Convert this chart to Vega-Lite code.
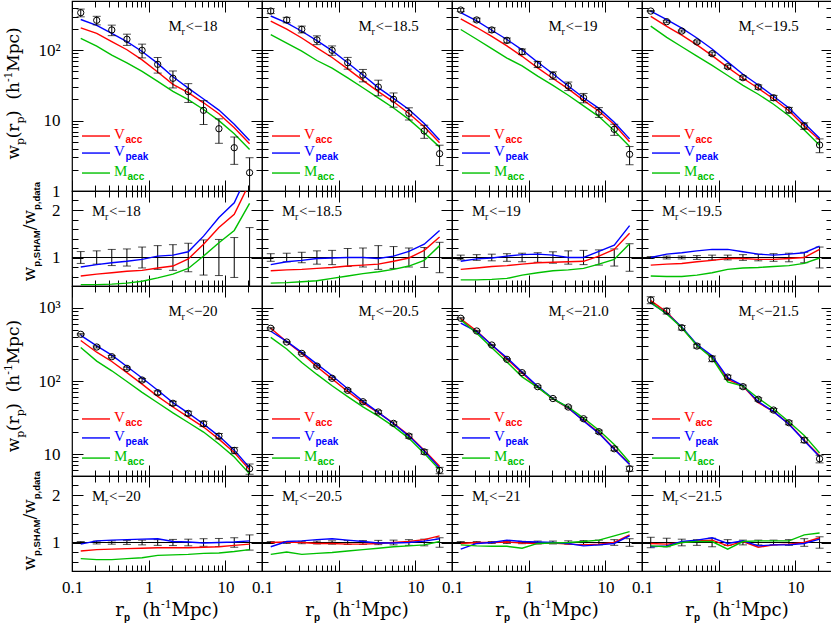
{"$schema":"https://vega.github.io/schema/vega-lite/v6.json","padding":{"left":2,"top":-2,"right":0,"bottom":0},"bounds":"flush","spacing":0,"columns":4,
"config":{"view":{"stroke":"black","strokeWidth":1.2},"axis":{"domain":false,"grid":false,"labelFont":"Liberation Serif","labelFontSize":17,"labelColor":"black","tickColor":"black","tickWidth":1,"labelOverlap":false,"labelFlush":false},"text":{"font":"Liberation Serif","fontSize":15,"align":"left","baseline":"alphabetic","color":"black"}},
"datasets":{"m":[
{"s":"A","r":0.13,"w":341,"lo":298,"hi":384,"va":208,"vp":273,"ma":147},
{"s":"A","r":0.21,"w":266,"lo":229,"hi":303,"va":173,"vp":226,"ma":114},
{"s":"A","r":0.33,"w":194,"lo":161,"hi":227,"va":132,"vp":173,"ma":85},
{"s":"A","r":0.52,"w":143,"lo":117,"hi":169,"va":101.5,"vp":132,"ma":66},
{"s":"A","r":0.82,"w":99.7,"lo":77.8,"hi":122,"va":72.8,"vp":96,"ma":50},
{"s":"A","r":1.31,"w":63,"lo":47.3,"hi":78.8,"va":49.1,"vp":65,"ma":36},
{"s":"A","r":2.07,"w":39.9,"lo":29.1,"hi":50.7,"va":32.7,"vp":42,"ma":26},
{"s":"A","r":3.28,"w":25.8,"lo":18.1,"hi":33.5,"va":25,"vp":28.9,"ma":19.9},
{"s":"A","r":5.19,"w":14,"lo":8.8,"hi":19.2,"va":17.9,"vp":20.3,"ma":14.4},
{"s":"A","r":8.23,"w":7.67,"lo":4.76,"hi":10.6,"va":12.5,"vp":14.1,"ma":10},
{"s":"A","r":13.04,"w":4.12,"lo":2.39,"hi":5.85,"va":7.9,"vp":8.9,"ma":6.5},
{"s":"A","r":20.67,"w":1.82,"lo":0.67,"hi":2.97,"va":4.7,"vp":5.2,"ma":3.9},
{"s":"B","r":0.13,"w":360,"lo":331,"hi":389,"va":259,"vp":306,"ma":166},
{"s":"B","r":0.21,"w":269,"lo":245,"hi":293,"va":199,"vp":245,"ma":126},
{"s":"B","r":0.33,"w":198,"lo":176,"hi":220,"va":149,"vp":186,"ma":97},
{"s":"B","r":0.52,"w":140,"lo":120,"hi":160,"va":108,"vp":137,"ma":71.4},
{"s":"B","r":0.82,"w":99.7,"lo":84.7,"hi":115,"va":78.8,"vp":98.7,"ma":55.8},
{"s":"B","r":1.31,"w":66.4,"lo":53.8,"hi":79,"va":54.4,"vp":66.4,"ma":40.5},
{"s":"B","r":2.07,"w":44.4,"lo":35.5,"hi":53.3,"va":37.3,"vp":44.4,"ma":29.3},
{"s":"B","r":3.28,"w":30,"lo":22.5,"hi":37.5,"va":25.8,"vp":29.4,"ma":21},
{"s":"B","r":5.19,"w":20.1,"lo":15.5,"hi":24.7,"va":18.5,"vp":20.7,"ma":15.1},
{"s":"B","r":8.23,"w":12.7,"lo":10.2,"hi":15.2,"va":12.6,"vp":14.4,"ma":10.4},
{"s":"B","r":13.04,"w":7.12,"lo":5.6,"hi":8.6,"va":8.2,"vp":9.1,"ma":6.7},
{"s":"B","r":20.67,"w":3.39,"lo":2.3,"hi":4.47,"va":4.85,"vp":5.3,"ma":4.2},
{"s":"C","r":0.13,"w":372,"lo":353,"hi":391,"va":279,"vp":342,"ma":197},
{"s":"C","r":0.21,"w":269,"lo":253,"hi":285,"va":210,"vp":261,"ma":143},
{"s":"C","r":0.33,"w":194,"lo":180,"hi":208,"va":157,"vp":192,"ma":105},
{"s":"C","r":0.52,"w":138,"lo":127,"hi":149,"va":115,"vp":142,"ma":77.3},
{"s":"C","r":0.82,"w":95.2,"lo":86.6,"hi":104,"va":81.9,"vp":101,"ma":60},
{"s":"C","r":1.31,"w":63,"lo":56.7,"hi":69.3,"va":56.1,"vp":67.4,"ma":42.8},
{"s":"C","r":2.07,"w":44,"lo":38.7,"hi":49.3,"va":39.6,"vp":46.2,"ma":31.7},
{"s":"C","r":3.28,"w":31,"lo":26.7,"hi":35.3,"va":28.2,"vp":31,"ma":22.9},
{"s":"C","r":5.19,"w":21.1,"lo":17.9,"hi":24.3,"va":19.4,"vp":21.1,"ma":16.2},
{"s":"C","r":8.23,"w":13.2,"lo":11.1,"hi":15.3,"va":13.6,"vp":14.9,"ma":11.4},
{"s":"C","r":13.04,"w":7.52,"lo":6.17,"hi":8.87,"va":8.8,"vp":9.5,"ma":7.2},
{"s":"C","r":20.67,"w":3.32,"lo":2.36,"hi":4.28,"va":5,"vp":5.5,"ma":4.3},
{"s":"D","r":0.13,"w":360,"lo":353,"hi":367,"va":302,"vp":360,"ma":220},
{"s":"D","r":0.21,"w":254,"lo":246,"hi":262,"va":218,"vp":272,"ma":152},
{"s":"D","r":0.33,"w":187,"lo":181,"hi":193,"va":164,"vp":206,"ma":112},
{"s":"D","r":0.52,"w":131,"lo":126,"hi":136,"va":119,"vp":149,"ma":82.5},
{"s":"D","r":0.82,"w":89.2,"lo":84.7,"hi":93.7,"va":83.8,"vp":104,"ma":60.7},
{"s":"D","r":1.31,"w":58.3,"lo":55.4,"hi":61.2,"va":57.1,"vp":68.2,"ma":43.7},
{"s":"D","r":2.07,"w":40.7,"lo":38.3,"hi":43.1,"va":39.9,"vp":45.6,"ma":31.7},
{"s":"D","r":3.28,"w":30,"lo":27.9,"hi":32.1,"va":28.8,"vp":32.1,"ma":23.7},
{"s":"D","r":5.19,"w":21.1,"lo":19.4,"hi":22.8,"va":20.3,"vp":22.2,"ma":17.1},
{"s":"D","r":8.23,"w":14.1,"lo":12.8,"hi":15.4,"va":13.8,"vp":15.1,"ma":11.7},
{"s":"D","r":13.04,"w":8.4,"lo":7.5,"hi":9.3,"va":8.4,"vp":9.2,"ma":7.35},
{"s":"D","r":20.67,"w":4.5,"lo":3.5,"hi":5.5,"va":5.3,"vp":5.6,"ma":4.46},
{"s":"E","r":0.13,"w":436,"lo":427,"hi":445,"va":358,"vp":421,"ma":288},
{"s":"E","r":0.21,"w":292,"lo":283,"hi":301,"va":248,"vp":302,"ma":187},
{"s":"E","r":0.33,"w":215,"lo":207,"hi":223,"va":185,"vp":226,"ma":138},
{"s":"E","r":0.52,"w":149,"lo":143,"hi":155,"va":130,"vp":158,"ma":98.3},
{"s":"E","r":0.82,"w":103,"lo":97.9,"hi":108,"va":90.6,"vp":110,"ma":70},
{"s":"E","r":1.31,"w":69.1,"lo":65,"hi":73.2,"va":61.5,"vp":74.6,"ma":50.4},
{"s":"E","r":2.07,"w":49.5,"lo":46.3,"hi":52.7,"va":44.1,"vp":50.5,"ma":36.6},
{"s":"E","r":3.28,"w":36,"lo":33.5,"hi":38.5,"va":32,"vp":36.4,"ma":27},
{"s":"E","r":5.19,"w":26,"lo":23.9,"hi":28.1,"va":23.4,"vp":25.7,"ma":20},
{"s":"E","r":8.23,"w":17.6,"lo":16.1,"hi":19.1,"va":16,"vp":17.6,"ma":13.7},
{"s":"E","r":13.04,"w":11.2,"lo":10.1,"hi":12.3,"va":10.5,"vp":11.3,"ma":9.1},
{"s":"E","r":20.67,"w":6.29,"lo":5.28,"hi":7.3,"va":6.07,"vp":6.5,"ma":5.35},
{"s":"F","r":0.13,"w":527,"lo":516,"hi":538,"va":527,"vp":480,"ma":395},
{"s":"F","r":0.21,"w":342,"lo":335,"hi":349,"va":345,"vp":349,"ma":274},
{"s":"F","r":0.33,"w":239,"lo":233,"hi":245,"va":239,"vp":247,"ma":179},
{"s":"F","r":0.52,"w":160,"lo":155,"hi":165,"va":157,"vp":170,"ma":123},
{"s":"F","r":0.82,"w":109,"lo":105,"hi":113,"va":107,"vp":118,"ma":86},
{"s":"F","r":1.31,"w":74.5,"lo":71.5,"hi":77.5,"va":71.9,"vp":78.2,"ma":61},
{"s":"F","r":2.07,"w":52,"lo":49.9,"hi":54.1,"va":50.2,"vp":53,"ma":44.2},
{"s":"F","r":3.28,"w":37.6,"lo":35.9,"hi":39.3,"va":36.8,"vp":37.2,"ma":33.1},
{"s":"F","r":5.19,"w":26.3,"lo":25,"hi":27.6,"va":26.3,"vp":26,"ma":23.9},
{"s":"F","r":8.23,"w":17.6,"lo":16.5,"hi":18.7,"va":18,"vp":17.6,"ma":16.4},
{"s":"F","r":13.04,"w":10.7,"lo":9.95,"hi":11.45,"va":11.3,"vp":11,"ma":10.2},
{"s":"F","r":20.67,"w":5.97,"lo":5.37,"hi":6.57,"va":6.8,"vp":6.45,"ma":6.1},
{"s":"G","r":0.13,"w":723,"lo":709,"hi":737,"va":709,"vp":622,"ma":687},
{"s":"G","r":0.21,"w":484,"lo":474,"hi":494,"va":484,"vp":474,"ma":450},
{"s":"G","r":0.33,"w":311,"lo":305,"hi":317,"va":311,"vp":311,"ma":286},
{"s":"G","r":0.52,"w":198,"lo":194,"hi":202,"va":200,"vp":208,"ma":182},
{"s":"G","r":0.82,"w":130,"lo":127,"hi":133,"va":129,"vp":133,"ma":114},
{"s":"G","r":1.31,"w":83.6,"lo":81.1,"hi":86.1,"va":81.9,"vp":84.4,"ma":81.9},
{"s":"G","r":2.07,"w":57.5,"lo":55.8,"hi":59.2,"va":56.9,"vp":57.5,"ma":56.9},
{"s":"G","r":3.28,"w":44,"lo":42.5,"hi":45.5,"va":42.5,"vp":43.1,"ma":44},
{"s":"G","r":5.19,"w":30.4,"lo":29.2,"hi":31.6,"va":28.9,"vp":28.3,"ma":31},
{"s":"G","r":8.23,"w":20.2,"lo":19.2,"hi":21.2,"va":19.5,"vp":19.2,"ma":21.2},
{"s":"G","r":13.04,"w":11.8,"lo":11.1,"hi":12.5,"va":11.8,"vp":11.6,"ma":13.5},
{"s":"G","r":20.67,"w":6.29,"lo":5.79,"hi":6.79,"va":7.3,"vp":7.2,"ma":7.7},
{"s":"H","r":0.13,"w":1285,"lo":1144,"hi":1426,"va":1259,"vp":1169,"ma":1195},
{"s":"H","r":0.21,"w":909,"lo":827,"hi":991,"va":877,"vp":845,"ma":827},
{"s":"H","r":0.33,"w":537,"lo":499,"hi":575,"va":537,"vp":548,"ma":537},
{"s":"H","r":0.52,"w":301,"lo":283,"hi":319,"va":312,"vp":316,"ma":307},
{"s":"H","r":0.82,"w":202,"lo":184,"hi":220,"va":212,"vp":222,"ma":206},
{"s":"H","r":1.31,"w":113,"lo":106,"hi":120,"va":105,"vp":111,"ma":97},
{"s":"H","r":2.07,"w":83.6,"lo":79.4,"hi":87.8,"va":85.3,"vp":86.5,"ma":85.3},
{"s":"H","r":3.28,"w":56.1,"lo":53.3,"hi":58.9,"va":50.5,"vp":52.2,"ma":58.1},
{"s":"H","r":5.19,"w":40,"lo":38,"hi":42,"va":38,"vp":38,"ma":41.4},
{"s":"H","r":8.23,"w":26.8,"lo":25.2,"hi":28.4,"va":25.9,"vp":25.5,"ma":27.7},
{"s":"H","r":13.04,"w":15.5,"lo":14.3,"hi":16.7,"va":15.5,"vp":15.2,"ma":18},
{"s":"H","r":20.67,"w":8.6,"lo":7.57,"hi":9.63,"va":9.5,"vp":9.2,"ma":10.3}
],
"q":[
{"s":"A","r":0.13,"lo":0.875,"hi":1.125,"va":0.61,"vp":0.8,"ma":0.43},
{"s":"A","r":0.21,"lo":0.86,"hi":1.14,"va":0.65,"vp":0.85,"ma":0.43},
{"s":"A","r":0.33,"lo":0.83,"hi":1.17,"va":0.68,"vp":0.89,"ma":0.44},
{"s":"A","r":0.52,"lo":0.82,"hi":1.18,"va":0.71,"vp":0.92,"ma":0.46},
{"s":"A","r":0.82,"lo":0.78,"hi":1.22,"va":0.73,"vp":0.96,"ma":0.5},
{"s":"A","r":1.31,"lo":0.75,"hi":1.25,"va":0.78,"vp":1.03,"ma":0.57},
{"s":"A","r":2.07,"lo":0.73,"hi":1.27,"va":0.82,"vp":1.05,"ma":0.65},
{"s":"A","r":3.28,"lo":0.7,"hi":1.3,"va":0.97,"vp":1.12,"ma":0.77},
{"s":"A","r":5.19,"lo":0.63,"hi":1.37,"va":1.28,"vp":1.45,"ma":1.03},
{"s":"A","r":8.23,"lo":0.62,"hi":1.38,"va":1.63,"vp":1.84,"ma":1.31},
{"s":"A","r":13.04,"lo":0.58,"hi":1.42,"va":1.91,"vp":2.15,"ma":1.57},
{"s":"A","r":20.67,"lo":0.37,"hi":1.63,"va":2.57,"vp":2.85,"ma":2.14},
{"s":"B","r":0.13,"lo":0.92,"hi":1.08,"va":0.72,"vp":0.85,"ma":0.46},
{"s":"B","r":0.21,"lo":0.91,"hi":1.09,"va":0.74,"vp":0.91,"ma":0.47},
{"s":"B","r":0.33,"lo":0.89,"hi":1.11,"va":0.75,"vp":0.94,"ma":0.49},
{"s":"B","r":0.52,"lo":0.86,"hi":1.14,"va":0.77,"vp":0.98,"ma":0.51},
{"s":"B","r":0.82,"lo":0.85,"hi":1.15,"va":0.79,"vp":0.99,"ma":0.56},
{"s":"B","r":1.31,"lo":0.81,"hi":1.19,"va":0.82,"vp":1,"ma":0.61},
{"s":"B","r":2.07,"lo":0.8,"hi":1.2,"va":0.84,"vp":1,"ma":0.66},
{"s":"B","r":3.28,"lo":0.75,"hi":1.25,"va":0.86,"vp":0.98,"ma":0.7},
{"s":"B","r":5.19,"lo":0.77,"hi":1.23,"va":0.92,"vp":1.03,"ma":0.75},
{"s":"B","r":8.23,"lo":0.8,"hi":1.2,"va":0.99,"vp":1.13,"ma":0.82},
{"s":"B","r":13.04,"lo":0.79,"hi":1.21,"va":1.15,"vp":1.28,"ma":0.94},
{"s":"B","r":20.67,"lo":0.68,"hi":1.32,"va":1.43,"vp":1.57,"ma":1.25},
{"s":"C","r":0.13,"lo":0.95,"hi":1.05,"va":0.75,"vp":0.92,"ma":0.53},
{"s":"C","r":0.21,"lo":0.94,"hi":1.06,"va":0.78,"vp":0.97,"ma":0.53},
{"s":"C","r":0.33,"lo":0.93,"hi":1.07,"va":0.81,"vp":0.99,"ma":0.54},
{"s":"C","r":0.52,"lo":0.92,"hi":1.08,"va":0.83,"vp":1.03,"ma":0.56},
{"s":"C","r":0.82,"lo":0.91,"hi":1.09,"va":0.86,"vp":1.06,"ma":0.63},
{"s":"C","r":1.31,"lo":0.9,"hi":1.1,"va":0.89,"vp":1.07,"ma":0.68},
{"s":"C","r":2.07,"lo":0.88,"hi":1.12,"va":0.9,"vp":1.05,"ma":0.72},
{"s":"C","r":3.28,"lo":0.86,"hi":1.14,"va":0.91,"vp":1,"ma":0.74},
{"s":"C","r":5.19,"lo":0.85,"hi":1.15,"va":0.92,"vp":1,"ma":0.77},
{"s":"C","r":8.23,"lo":0.84,"hi":1.16,"va":1.03,"vp":1.13,"ma":0.86},
{"s":"C","r":13.04,"lo":0.82,"hi":1.18,"va":1.17,"vp":1.26,"ma":0.96},
{"s":"C","r":20.67,"lo":0.71,"hi":1.29,"va":1.51,"vp":1.67,"ma":1.29},
{"s":"D","r":0.13,"lo":0.98,"hi":1.02,"va":0.84,"vp":1,"ma":0.61},
{"s":"D","r":0.21,"lo":0.97,"hi":1.03,"va":0.86,"vp":1.07,"ma":0.6},
{"s":"D","r":0.33,"lo":0.97,"hi":1.03,"va":0.875,"vp":1.1,"ma":0.6},
{"s":"D","r":0.52,"lo":0.96,"hi":1.04,"va":0.91,"vp":1.14,"ma":0.63},
{"s":"D","r":0.82,"lo":0.95,"hi":1.05,"va":0.94,"vp":1.17,"ma":0.68},
{"s":"D","r":1.31,"lo":0.95,"hi":1.05,"va":0.98,"vp":1.17,"ma":0.75},
{"s":"D","r":2.07,"lo":0.94,"hi":1.06,"va":0.98,"vp":1.12,"ma":0.78},
{"s":"D","r":3.28,"lo":0.93,"hi":1.07,"va":0.96,"vp":1.07,"ma":0.79},
{"s":"D","r":5.19,"lo":0.92,"hi":1.08,"va":0.96,"vp":1.05,"ma":0.81},
{"s":"D","r":8.23,"lo":0.91,"hi":1.09,"va":0.98,"vp":1.07,"ma":0.83},
{"s":"D","r":13.04,"lo":0.89,"hi":1.11,"va":1,"vp":1.1,"ma":0.875},
{"s":"D","r":20.67,"lo":0.78,"hi":1.22,"va":1.17,"vp":1.24,"ma":0.99},
{"s":"E","r":0.13,"lo":0.98,"hi":1.02,"va":0.82,"vp":0.965,"ma":0.66},
{"s":"E","r":0.21,"lo":0.97,"hi":1.03,"va":0.85,"vp":1.035,"ma":0.64},
{"s":"E","r":0.33,"lo":0.965,"hi":1.035,"va":0.86,"vp":1.05,"ma":0.64},
{"s":"E","r":0.52,"lo":0.96,"hi":1.04,"va":0.87,"vp":1.06,"ma":0.66},
{"s":"E","r":0.82,"lo":0.95,"hi":1.05,"va":0.88,"vp":1.07,"ma":0.68},
{"s":"E","r":1.31,"lo":0.94,"hi":1.06,"va":0.89,"vp":1.08,"ma":0.73},
{"s":"E","r":2.07,"lo":0.935,"hi":1.065,"va":0.89,"vp":1.02,"ma":0.74},
{"s":"E","r":3.28,"lo":0.93,"hi":1.07,"va":0.89,"vp":1.01,"ma":0.75},
{"s":"E","r":5.19,"lo":0.92,"hi":1.08,"va":0.9,"vp":0.99,"ma":0.77},
{"s":"E","r":8.23,"lo":0.915,"hi":1.085,"va":0.91,"vp":1,"ma":0.78},
{"s":"E","r":13.04,"lo":0.9,"hi":1.1,"va":0.94,"vp":1.01,"ma":0.81},
{"s":"E","r":20.67,"lo":0.84,"hi":1.16,"va":0.965,"vp":1.035,"ma":0.85},
{"s":"F","r":0.13,"lo":0.98,"hi":1.02,"va":1,"vp":0.91,"ma":0.75},
{"s":"F","r":0.21,"lo":0.98,"hi":1.02,"va":1.01,"vp":1.02,"ma":0.8},
{"s":"F","r":0.33,"lo":0.975,"hi":1.025,"va":1,"vp":1.035,"ma":0.75},
{"s":"F","r":0.52,"lo":0.97,"hi":1.03,"va":0.98,"vp":1.06,"ma":0.77},
{"s":"F","r":0.82,"lo":0.965,"hi":1.035,"va":0.98,"vp":1.08,"ma":0.79},
{"s":"F","r":1.31,"lo":0.96,"hi":1.04,"va":0.965,"vp":1.05,"ma":0.82},
{"s":"F","r":2.07,"lo":0.96,"hi":1.04,"va":0.965,"vp":1.02,"ma":0.85},
{"s":"F","r":3.28,"lo":0.955,"hi":1.045,"va":0.98,"vp":0.99,"ma":0.88},
{"s":"F","r":5.19,"lo":0.95,"hi":1.05,"va":1,"vp":0.99,"ma":0.91},
{"s":"F","r":8.23,"lo":0.94,"hi":1.06,"va":1.02,"vp":1,"ma":0.93},
{"s":"F","r":13.04,"lo":0.93,"hi":1.07,"va":1.06,"vp":1.03,"ma":0.95},
{"s":"F","r":20.67,"lo":0.9,"hi":1.1,"va":1.14,"vp":1.08,"ma":1.02},
{"s":"G","r":0.13,"lo":0.98,"hi":1.02,"va":0.98,"vp":0.86,"ma":0.95},
{"s":"G","r":0.21,"lo":0.98,"hi":1.02,"va":1,"vp":0.98,"ma":0.93},
{"s":"G","r":0.33,"lo":0.98,"hi":1.02,"va":1,"vp":1,"ma":0.92},
{"s":"G","r":0.52,"lo":0.98,"hi":1.02,"va":1.01,"vp":1.05,"ma":0.92},
{"s":"G","r":0.82,"lo":0.975,"hi":1.025,"va":0.99,"vp":1.02,"ma":0.88},
{"s":"G","r":1.31,"lo":0.97,"hi":1.03,"va":0.98,"vp":1.01,"ma":0.98},
{"s":"G","r":2.07,"lo":0.97,"hi":1.03,"va":0.99,"vp":1,"ma":0.99},
{"s":"G","r":3.28,"lo":0.965,"hi":1.035,"va":0.965,"vp":0.98,"ma":1},
{"s":"G","r":5.19,"lo":0.96,"hi":1.04,"va":0.95,"vp":0.93,"ma":1.02},
{"s":"G","r":8.23,"lo":0.95,"hi":1.05,"va":0.965,"vp":0.95,"ma":1.05},
{"s":"G","r":13.04,"lo":0.94,"hi":1.06,"va":1,"vp":0.98,"ma":1.14},
{"s":"G","r":20.67,"lo":0.92,"hi":1.08,"va":1.16,"vp":1.14,"ma":1.23},
{"s":"H","r":0.13,"lo":0.89,"hi":1.11,"va":0.98,"vp":0.91,"ma":0.93},
{"s":"H","r":0.21,"lo":0.91,"hi":1.09,"va":0.965,"vp":0.93,"ma":0.91},
{"s":"H","r":0.33,"lo":0.93,"hi":1.07,"va":1,"vp":1.02,"ma":1},
{"s":"H","r":0.52,"lo":0.94,"hi":1.06,"va":1.035,"vp":1.05,"ma":1.02},
{"s":"H","r":0.82,"lo":0.91,"hi":1.09,"va":1.05,"vp":1.1,"ma":1.02},
{"s":"H","r":1.31,"lo":0.94,"hi":1.06,"va":0.93,"vp":0.98,"ma":0.86},
{"s":"H","r":2.07,"lo":0.95,"hi":1.05,"va":1.02,"vp":1.035,"ma":1.02},
{"s":"H","r":3.28,"lo":0.95,"hi":1.05,"va":0.9,"vp":0.93,"ma":1.035},
{"s":"H","r":5.19,"lo":0.95,"hi":1.05,"va":0.95,"vp":0.95,"ma":1.035},
{"s":"H","r":8.23,"lo":0.94,"hi":1.06,"va":0.965,"vp":0.95,"ma":1.035},
{"s":"H","r":13.04,"lo":0.92,"hi":1.08,"va":1,"vp":0.98,"ma":1.16},
{"s":"H","r":20.67,"lo":0.88,"hi":1.12,"va":1.1,"vp":1.07,"ma":1.2}
]},
"concat":[
{"width":190,"height":190,"resolve":{"axis":{"x":"independent","y":"independent"}},"layer":[
{"data":{"name":"m"},"transform":[{"filter":"datum.s=='A'"},{"fold":["va","vp","ma"],"as":["k","v"]}],"mark":{"type":"line","clip":true,"strokeWidth":1.4},"encoding":{"x":{"field":"r","type":"quantitative","scale":{"type":"log","domain":[0.1,30],"nice":false},"axis":{"orient":"bottom","labels":false,"title":null,"tickSize":{"condition":{"test":"datum.value==0.1||datum.value==1||datum.value==10","value":-11},"value":-6}}},"y":{"field":"v","type":"quantitative","scale":{"type":"log","domain":[1,500],"nice":false},"axis":{"orient":"left","title":null,"values":[1,2,3,4,5,6,7,8,9,10,20,30,40,50,60,70,80,90,100,200,300,400],"labelPadding":23,"labelExpr":"datum.value==100?'10²':datum.value==10?'10':datum.value==1?'1':''","tickSize":{"condition":{"test":"datum.value==1||datum.value==10||datum.value==100","value":-11},"value":-6}}},"color":{"field":"k","type":"nominal","scale":{"domain":["va","vp","ma"],"range":["#ff0000","#0000ff","#00c000"]},"legend":null}}},
{"data":{"name":"m"},"transform":[{"filter":"datum.s=='A'"}],"mark":{"type":"rule","clip":true,"color":"black"},"encoding":{"x":{"field":"r","type":"quantitative","axis":{"orient":"top","labels":false,"title":null,"tickSize":{"condition":{"test":"datum.value==0.1||datum.value==1||datum.value==10","value":-11},"value":-6}}},"y":{"field":"lo","type":"quantitative","axis":{"orient":"right","labels":false,"title":null,"tickSize":{"condition":{"test":"datum.value==1||datum.value==10||datum.value==100","value":-11},"value":-6}}},"y2":{"field":"hi"}}},
{"data":{"name":"m"},"transform":[{"filter":"datum.s=='A'"},{"fold":["lo","hi"],"as":["c","e"]}],"mark":{"type":"tick","orient":"horizontal","size":8,"thickness":1,"clip":true,"color":"black"},"encoding":{"x":{"field":"r","type":"quantitative","axis":null},"y":{"field":"e","type":"quantitative","axis":null}}},
{"data":{"name":"m"},"transform":[{"filter":"datum.s=='A'"}],"mark":{"type":"point","shape":"circle","size":40,"color":"black","strokeWidth":1,"filled":false,"opacity":1,"clip":true},"encoding":{"x":{"field":"r","type":"quantitative","axis":null},"y":{"field":"w","type":"quantitative","axis":null}}},
{"data":{"values":[{}]},"mark":{"type":"rule","color":"#ff0000","strokeWidth":1.4},"encoding":{"x":{"datum":0.135,"axis":null},"x2":{"datum":0.313},"y":{"datum":6.04,"axis":null}}},
{"data":{"values":[{}]},"mark":{"type":"rule","color":"#0000ff","strokeWidth":1.4},"encoding":{"x":{"datum":0.135,"axis":null},"x2":{"datum":0.313},"y":{"datum":3.46,"axis":null}}},
{"data":{"values":[{}]},"mark":{"type":"rule","color":"#00c000","strokeWidth":1.4},"encoding":{"x":{"datum":0.135,"axis":null},"x2":{"datum":0.313},"y":{"datum":1.8,"axis":null}}},
{"data":{"values":[{}]},"mark":{"type":"text","text":"V","color":"#ff0000","dy":3},"encoding":{"x":{"datum":0.353,"axis":null},"y":{"datum":6.04,"axis":null}}},
{"data":{"values":[{}]},"mark":{"type":"text","text":"acc","color":"#ff0000","font":"Liberation Sans","fontWeight":"bold","fontSize":10,"dx":11.5,"dy":7},"encoding":{"x":{"datum":0.353,"axis":null},"y":{"datum":6.04,"axis":null}}},
{"data":{"values":[{}]},"mark":{"type":"text","text":"V","color":"#0000ff","dy":3},"encoding":{"x":{"datum":0.353,"axis":null},"y":{"datum":3.46,"axis":null}}},
{"data":{"values":[{}]},"mark":{"type":"text","text":"peak","color":"#0000ff","font":"Liberation Sans","fontWeight":"bold","fontSize":10,"dx":11.5,"dy":7},"encoding":{"x":{"datum":0.353,"axis":null},"y":{"datum":3.46,"axis":null}}},
{"data":{"values":[{}]},"mark":{"type":"text","text":"M","color":"#00c000","dy":3},"encoding":{"x":{"datum":0.353,"axis":null},"y":{"datum":1.8,"axis":null}}},
{"data":{"values":[{}]},"mark":{"type":"text","text":"acc","color":"#00c000","font":"Liberation Sans","fontWeight":"bold","fontSize":10,"dx":13.5,"dy":7},"encoding":{"x":{"datum":0.353,"axis":null},"y":{"datum":1.8,"axis":null}}},
{"data":{"values":[{}]},"mark":{"type":"text","text":"M"},"encoding":{"x":{"datum":1.81,"axis":null},"y":{"datum":187,"axis":null}}},
{"data":{"values":[{}]},"mark":{"type":"text","text":"r","fontSize":10,"dx":13,"dy":4},"encoding":{"x":{"datum":1.81,"axis":null},"y":{"datum":187,"axis":null}}},
{"data":{"values":[{}]},"mark":{"type":"text","text":"<−18","dx":17},"encoding":{"x":{"datum":1.81,"axis":null},"y":{"datum":187,"axis":null}}},
{"data":{"values":[{}]},"mark":{"type":"text","text":"w","font":"DejaVu Serif","fontSize":17,"angle":270},"encoding":{"x":{"datum":0.0204,"axis":null},"y":{"datum":2.8,"axis":null}}},
{"data":{"values":[{}]},"mark":{"type":"text","text":"p","font":"DejaVu Serif","fontSize":11,"angle":270,"dx":14.5,"dy":5},"encoding":{"x":{"datum":0.0204,"axis":null},"y":{"datum":2.8,"axis":null}}},
{"data":{"values":[{}]},"mark":{"type":"text","text":"(r","font":"DejaVu Serif","fontSize":17,"angle":270,"dx":21.2},"encoding":{"x":{"datum":0.0204,"axis":null},"y":{"datum":2.8,"axis":null}}},
{"data":{"values":[{}]},"mark":{"type":"text","text":"p","font":"DejaVu Serif","fontSize":11,"angle":270,"dx":35.9,"dy":5},"encoding":{"x":{"datum":0.0204,"axis":null},"y":{"datum":2.8,"axis":null}}},
{"data":{"values":[{}]},"mark":{"type":"text","text":")","font":"DejaVu Serif","fontSize":17,"angle":270,"dx":42.5},"encoding":{"x":{"datum":0.0204,"axis":null},"y":{"datum":2.8,"axis":null}}},
{"data":{"values":[{}]},"mark":{"type":"text","text":"(h","font":"DejaVu Serif","fontSize":17,"angle":270,"dx":59.9},"encoding":{"x":{"datum":0.0204,"axis":null},"y":{"datum":2.8,"axis":null}}},
{"data":{"values":[{}]},"mark":{"type":"text","text":"-1","font":"DejaVu Serif","fontSize":11,"angle":270,"dx":77.4,"dy":-7},"encoding":{"x":{"datum":0.0204,"axis":null},"y":{"datum":2.8,"axis":null}}},
{"data":{"values":[{}]},"mark":{"type":"text","text":"Mpc)","font":"DejaVu Serif","fontSize":17,"angle":270,"dx":87.8},"encoding":{"x":{"datum":0.0204,"axis":null},"y":{"datum":2.8,"axis":null}}}
]},
{"width":190,"height":190,"resolve":{"axis":{"x":"independent","y":"independent"}},"layer":[
{"data":{"name":"m"},"transform":[{"filter":"datum.s=='B'"},{"fold":["va","vp","ma"],"as":["k","v"]}],"mark":{"type":"line","clip":true,"strokeWidth":1.4},"encoding":{"x":{"field":"r","type":"quantitative","scale":{"type":"log","domain":[0.1,30],"nice":false},"axis":{"orient":"bottom","labels":false,"title":null,"tickSize":{"condition":{"test":"datum.value==0.1||datum.value==1||datum.value==10","value":-11},"value":-6}}},"y":{"field":"v","type":"quantitative","scale":{"type":"log","domain":[1,500],"nice":false},"axis":{"orient":"left","labels":false,"title":null,"tickSize":{"condition":{"test":"datum.value==1||datum.value==10||datum.value==100","value":-11},"value":-6}}},"color":{"field":"k","type":"nominal","scale":{"domain":["va","vp","ma"],"range":["#ff0000","#0000ff","#00c000"]},"legend":null}}},
{"data":{"name":"m"},"transform":[{"filter":"datum.s=='B'"}],"mark":{"type":"rule","clip":true,"color":"black"},"encoding":{"x":{"field":"r","type":"quantitative","axis":{"orient":"top","labels":false,"title":null,"tickSize":{"condition":{"test":"datum.value==0.1||datum.value==1||datum.value==10","value":-11},"value":-6}}},"y":{"field":"lo","type":"quantitative","axis":{"orient":"right","labels":false,"title":null,"tickSize":{"condition":{"test":"datum.value==1||datum.value==10||datum.value==100","value":-11},"value":-6}}},"y2":{"field":"hi"}}},
{"data":{"name":"m"},"transform":[{"filter":"datum.s=='B'"},{"fold":["lo","hi"],"as":["c","e"]}],"mark":{"type":"tick","orient":"horizontal","size":8,"thickness":1,"clip":true,"color":"black"},"encoding":{"x":{"field":"r","type":"quantitative","axis":null},"y":{"field":"e","type":"quantitative","axis":null}}},
{"data":{"name":"m"},"transform":[{"filter":"datum.s=='B'"}],"mark":{"type":"point","shape":"circle","size":40,"color":"black","strokeWidth":1,"filled":false,"opacity":1,"clip":true},"encoding":{"x":{"field":"r","type":"quantitative","axis":null},"y":{"field":"w","type":"quantitative","axis":null}}},
{"data":{"values":[{}]},"mark":{"type":"rule","color":"#ff0000","strokeWidth":1.4},"encoding":{"x":{"datum":0.135,"axis":null},"x2":{"datum":0.313},"y":{"datum":6.04,"axis":null}}},
{"data":{"values":[{}]},"mark":{"type":"rule","color":"#0000ff","strokeWidth":1.4},"encoding":{"x":{"datum":0.135,"axis":null},"x2":{"datum":0.313},"y":{"datum":3.46,"axis":null}}},
{"data":{"values":[{}]},"mark":{"type":"rule","color":"#00c000","strokeWidth":1.4},"encoding":{"x":{"datum":0.135,"axis":null},"x2":{"datum":0.313},"y":{"datum":1.8,"axis":null}}},
{"data":{"values":[{}]},"mark":{"type":"text","text":"V","color":"#ff0000","dy":3},"encoding":{"x":{"datum":0.353,"axis":null},"y":{"datum":6.04,"axis":null}}},
{"data":{"values":[{}]},"mark":{"type":"text","text":"acc","color":"#ff0000","font":"Liberation Sans","fontWeight":"bold","fontSize":10,"dx":11.5,"dy":7},"encoding":{"x":{"datum":0.353,"axis":null},"y":{"datum":6.04,"axis":null}}},
{"data":{"values":[{}]},"mark":{"type":"text","text":"V","color":"#0000ff","dy":3},"encoding":{"x":{"datum":0.353,"axis":null},"y":{"datum":3.46,"axis":null}}},
{"data":{"values":[{}]},"mark":{"type":"text","text":"peak","color":"#0000ff","font":"Liberation Sans","fontWeight":"bold","fontSize":10,"dx":11.5,"dy":7},"encoding":{"x":{"datum":0.353,"axis":null},"y":{"datum":3.46,"axis":null}}},
{"data":{"values":[{}]},"mark":{"type":"text","text":"M","color":"#00c000","dy":3},"encoding":{"x":{"datum":0.353,"axis":null},"y":{"datum":1.8,"axis":null}}},
{"data":{"values":[{}]},"mark":{"type":"text","text":"acc","color":"#00c000","font":"Liberation Sans","fontWeight":"bold","fontSize":10,"dx":13.5,"dy":7},"encoding":{"x":{"datum":0.353,"axis":null},"y":{"datum":1.8,"axis":null}}},
{"data":{"values":[{}]},"mark":{"type":"text","text":"M"},"encoding":{"x":{"datum":1.81,"axis":null},"y":{"datum":187,"axis":null}}},
{"data":{"values":[{}]},"mark":{"type":"text","text":"r","fontSize":10,"dx":13,"dy":4},"encoding":{"x":{"datum":1.81,"axis":null},"y":{"datum":187,"axis":null}}},
{"data":{"values":[{}]},"mark":{"type":"text","text":"<−18.5","dx":17},"encoding":{"x":{"datum":1.81,"axis":null},"y":{"datum":187,"axis":null}}}
]},
{"width":190,"height":190,"resolve":{"axis":{"x":"independent","y":"independent"}},"layer":[
{"data":{"name":"m"},"transform":[{"filter":"datum.s=='C'"},{"fold":["va","vp","ma"],"as":["k","v"]}],"mark":{"type":"line","clip":true,"strokeWidth":1.4},"encoding":{"x":{"field":"r","type":"quantitative","scale":{"type":"log","domain":[0.1,30],"nice":false},"axis":{"orient":"bottom","labels":false,"title":null,"tickSize":{"condition":{"test":"datum.value==0.1||datum.value==1||datum.value==10","value":-11},"value":-6}}},"y":{"field":"v","type":"quantitative","scale":{"type":"log","domain":[1,500],"nice":false},"axis":{"orient":"left","labels":false,"title":null,"tickSize":{"condition":{"test":"datum.value==1||datum.value==10||datum.value==100","value":-11},"value":-6}}},"color":{"field":"k","type":"nominal","scale":{"domain":["va","vp","ma"],"range":["#ff0000","#0000ff","#00c000"]},"legend":null}}},
{"data":{"name":"m"},"transform":[{"filter":"datum.s=='C'"}],"mark":{"type":"rule","clip":true,"color":"black"},"encoding":{"x":{"field":"r","type":"quantitative","axis":{"orient":"top","labels":false,"title":null,"tickSize":{"condition":{"test":"datum.value==0.1||datum.value==1||datum.value==10","value":-11},"value":-6}}},"y":{"field":"lo","type":"quantitative","axis":{"orient":"right","labels":false,"title":null,"tickSize":{"condition":{"test":"datum.value==1||datum.value==10||datum.value==100","value":-11},"value":-6}}},"y2":{"field":"hi"}}},
{"data":{"name":"m"},"transform":[{"filter":"datum.s=='C'"},{"fold":["lo","hi"],"as":["c","e"]}],"mark":{"type":"tick","orient":"horizontal","size":8,"thickness":1,"clip":true,"color":"black"},"encoding":{"x":{"field":"r","type":"quantitative","axis":null},"y":{"field":"e","type":"quantitative","axis":null}}},
{"data":{"name":"m"},"transform":[{"filter":"datum.s=='C'"}],"mark":{"type":"point","shape":"circle","size":40,"color":"black","strokeWidth":1,"filled":false,"opacity":1,"clip":true},"encoding":{"x":{"field":"r","type":"quantitative","axis":null},"y":{"field":"w","type":"quantitative","axis":null}}},
{"data":{"values":[{}]},"mark":{"type":"rule","color":"#ff0000","strokeWidth":1.4},"encoding":{"x":{"datum":0.135,"axis":null},"x2":{"datum":0.313},"y":{"datum":6.04,"axis":null}}},
{"data":{"values":[{}]},"mark":{"type":"rule","color":"#0000ff","strokeWidth":1.4},"encoding":{"x":{"datum":0.135,"axis":null},"x2":{"datum":0.313},"y":{"datum":3.46,"axis":null}}},
{"data":{"values":[{}]},"mark":{"type":"rule","color":"#00c000","strokeWidth":1.4},"encoding":{"x":{"datum":0.135,"axis":null},"x2":{"datum":0.313},"y":{"datum":1.8,"axis":null}}},
{"data":{"values":[{}]},"mark":{"type":"text","text":"V","color":"#ff0000","dy":3},"encoding":{"x":{"datum":0.353,"axis":null},"y":{"datum":6.04,"axis":null}}},
{"data":{"values":[{}]},"mark":{"type":"text","text":"acc","color":"#ff0000","font":"Liberation Sans","fontWeight":"bold","fontSize":10,"dx":11.5,"dy":7},"encoding":{"x":{"datum":0.353,"axis":null},"y":{"datum":6.04,"axis":null}}},
{"data":{"values":[{}]},"mark":{"type":"text","text":"V","color":"#0000ff","dy":3},"encoding":{"x":{"datum":0.353,"axis":null},"y":{"datum":3.46,"axis":null}}},
{"data":{"values":[{}]},"mark":{"type":"text","text":"peak","color":"#0000ff","font":"Liberation Sans","fontWeight":"bold","fontSize":10,"dx":11.5,"dy":7},"encoding":{"x":{"datum":0.353,"axis":null},"y":{"datum":3.46,"axis":null}}},
{"data":{"values":[{}]},"mark":{"type":"text","text":"M","color":"#00c000","dy":3},"encoding":{"x":{"datum":0.353,"axis":null},"y":{"datum":1.8,"axis":null}}},
{"data":{"values":[{}]},"mark":{"type":"text","text":"acc","color":"#00c000","font":"Liberation Sans","fontWeight":"bold","fontSize":10,"dx":13.5,"dy":7},"encoding":{"x":{"datum":0.353,"axis":null},"y":{"datum":1.8,"axis":null}}},
{"data":{"values":[{}]},"mark":{"type":"text","text":"M"},"encoding":{"x":{"datum":1.81,"axis":null},"y":{"datum":187,"axis":null}}},
{"data":{"values":[{}]},"mark":{"type":"text","text":"r","fontSize":10,"dx":13,"dy":4},"encoding":{"x":{"datum":1.81,"axis":null},"y":{"datum":187,"axis":null}}},
{"data":{"values":[{}]},"mark":{"type":"text","text":"<−19","dx":17},"encoding":{"x":{"datum":1.81,"axis":null},"y":{"datum":187,"axis":null}}}
]},
{"width":190,"height":190,"resolve":{"axis":{"x":"independent","y":"independent"}},"layer":[
{"data":{"name":"m"},"transform":[{"filter":"datum.s=='D'"},{"fold":["va","vp","ma"],"as":["k","v"]}],"mark":{"type":"line","clip":true,"strokeWidth":1.4},"encoding":{"x":{"field":"r","type":"quantitative","scale":{"type":"log","domain":[0.1,30],"nice":false},"axis":{"orient":"bottom","labels":false,"title":null,"tickSize":{"condition":{"test":"datum.value==0.1||datum.value==1||datum.value==10","value":-11},"value":-6}}},"y":{"field":"v","type":"quantitative","scale":{"type":"log","domain":[1,500],"nice":false},"axis":{"orient":"left","labels":false,"title":null,"tickSize":{"condition":{"test":"datum.value==1||datum.value==10||datum.value==100","value":-11},"value":-6}}},"color":{"field":"k","type":"nominal","scale":{"domain":["va","vp","ma"],"range":["#ff0000","#0000ff","#00c000"]},"legend":null}}},
{"data":{"name":"m"},"transform":[{"filter":"datum.s=='D'"}],"mark":{"type":"rule","clip":true,"color":"black"},"encoding":{"x":{"field":"r","type":"quantitative","axis":{"orient":"top","labels":false,"title":null,"tickSize":{"condition":{"test":"datum.value==0.1||datum.value==1||datum.value==10","value":-11},"value":-6}}},"y":{"field":"lo","type":"quantitative","axis":{"orient":"right","labels":false,"title":null,"tickSize":{"condition":{"test":"datum.value==1||datum.value==10||datum.value==100","value":-11},"value":-6}}},"y2":{"field":"hi"}}},
{"data":{"name":"m"},"transform":[{"filter":"datum.s=='D'"},{"fold":["lo","hi"],"as":["c","e"]}],"mark":{"type":"tick","orient":"horizontal","size":8,"thickness":1,"clip":true,"color":"black"},"encoding":{"x":{"field":"r","type":"quantitative","axis":null},"y":{"field":"e","type":"quantitative","axis":null}}},
{"data":{"name":"m"},"transform":[{"filter":"datum.s=='D'"}],"mark":{"type":"point","shape":"circle","size":40,"color":"black","strokeWidth":1,"filled":false,"opacity":1,"clip":true},"encoding":{"x":{"field":"r","type":"quantitative","axis":null},"y":{"field":"w","type":"quantitative","axis":null}}},
{"data":{"values":[{}]},"mark":{"type":"rule","color":"#ff0000","strokeWidth":1.4},"encoding":{"x":{"datum":0.135,"axis":null},"x2":{"datum":0.313},"y":{"datum":6.04,"axis":null}}},
{"data":{"values":[{}]},"mark":{"type":"rule","color":"#0000ff","strokeWidth":1.4},"encoding":{"x":{"datum":0.135,"axis":null},"x2":{"datum":0.313},"y":{"datum":3.46,"axis":null}}},
{"data":{"values":[{}]},"mark":{"type":"rule","color":"#00c000","strokeWidth":1.4},"encoding":{"x":{"datum":0.135,"axis":null},"x2":{"datum":0.313},"y":{"datum":1.8,"axis":null}}},
{"data":{"values":[{}]},"mark":{"type":"text","text":"V","color":"#ff0000","dy":3},"encoding":{"x":{"datum":0.353,"axis":null},"y":{"datum":6.04,"axis":null}}},
{"data":{"values":[{}]},"mark":{"type":"text","text":"acc","color":"#ff0000","font":"Liberation Sans","fontWeight":"bold","fontSize":10,"dx":11.5,"dy":7},"encoding":{"x":{"datum":0.353,"axis":null},"y":{"datum":6.04,"axis":null}}},
{"data":{"values":[{}]},"mark":{"type":"text","text":"V","color":"#0000ff","dy":3},"encoding":{"x":{"datum":0.353,"axis":null},"y":{"datum":3.46,"axis":null}}},
{"data":{"values":[{}]},"mark":{"type":"text","text":"peak","color":"#0000ff","font":"Liberation Sans","fontWeight":"bold","fontSize":10,"dx":11.5,"dy":7},"encoding":{"x":{"datum":0.353,"axis":null},"y":{"datum":3.46,"axis":null}}},
{"data":{"values":[{}]},"mark":{"type":"text","text":"M","color":"#00c000","dy":3},"encoding":{"x":{"datum":0.353,"axis":null},"y":{"datum":1.8,"axis":null}}},
{"data":{"values":[{}]},"mark":{"type":"text","text":"acc","color":"#00c000","font":"Liberation Sans","fontWeight":"bold","fontSize":10,"dx":13.5,"dy":7},"encoding":{"x":{"datum":0.353,"axis":null},"y":{"datum":1.8,"axis":null}}},
{"data":{"values":[{}]},"mark":{"type":"text","text":"M"},"encoding":{"x":{"datum":1.81,"axis":null},"y":{"datum":187,"axis":null}}},
{"data":{"values":[{}]},"mark":{"type":"text","text":"r","fontSize":10,"dx":13,"dy":4},"encoding":{"x":{"datum":1.81,"axis":null},"y":{"datum":187,"axis":null}}},
{"data":{"values":[{}]},"mark":{"type":"text","text":"<−19.5","dx":17},"encoding":{"x":{"datum":1.81,"axis":null},"y":{"datum":187,"axis":null}}}
]},
{"width":190,"height":95,"resolve":{"axis":{"x":"independent","y":"independent"}},"layer":[
{"data":{"values":[{}]},"mark":{"type":"rule","color":"black","strokeWidth":1},"encoding":{"y":{"datum":1,"axis":null}}},
{"data":{"name":"q"},"transform":[{"filter":"datum.s=='A'"}],"mark":{"type":"rule","clip":true,"color":"black"},"encoding":{"x":{"field":"r","type":"quantitative","axis":{"orient":"top","labels":false,"title":null,"tickSize":{"condition":{"test":"datum.value==0.1||datum.value==1||datum.value==10","value":-11},"value":-6}}},"y":{"field":"lo","type":"quantitative","axis":{"orient":"right","labels":false,"title":null,"tickCount":10,"tickSize":{"condition":{"test":"datum.value==1||datum.value==2","value":-11},"value":-6}}},"y2":{"field":"hi"}}},
{"data":{"name":"q"},"transform":[{"filter":"datum.s=='A'"},{"fold":["lo","hi"],"as":["c","e"]}],"mark":{"type":"tick","orient":"horizontal","size":8,"thickness":1,"clip":true,"color":"black"},"encoding":{"x":{"field":"r","type":"quantitative","axis":null},"y":{"field":"e","type":"quantitative","axis":null}}},
{"data":{"name":"q"},"transform":[{"filter":"datum.s=='A'"},{"fold":["va","vp","ma"],"as":["k","v"]}],"mark":{"type":"line","clip":true,"strokeWidth":1.4},"encoding":{"x":{"field":"r","type":"quantitative","scale":{"type":"log","domain":[0.1,30],"nice":false},"axis":{"orient":"bottom","labels":false,"title":null,"tickSize":{"condition":{"test":"datum.value==0.1||datum.value==1||datum.value==10","value":-11},"value":-6}}},"y":{"field":"v","type":"quantitative","scale":{"domain":[0.4,2.4],"nice":false,"zero":false},"axis":{"orient":"left","title":null,"values":[0.6,0.8,1,1.2,1.4,1.6,1.8,2,2.2],"labelPadding":23,"labelExpr":"datum.value==1?'1':datum.value==2?'2':''","tickSize":{"condition":{"test":"datum.value==1||datum.value==2","value":-11},"value":-6}}},"color":{"field":"k","type":"nominal","scale":{"domain":["va","vp","ma"],"range":["#ff0000","#0000ff","#00c000"]},"legend":null}}},
{"data":{"values":[{}]},"mark":{"type":"text","text":"M"},"encoding":{"x":{"datum":0.182,"axis":null},"y":{"datum":1.874,"axis":null}}},
{"data":{"values":[{}]},"mark":{"type":"text","text":"r","fontSize":10,"dx":13,"dy":4},"encoding":{"x":{"datum":0.182,"axis":null},"y":{"datum":1.874,"axis":null}}},
{"data":{"values":[{}]},"mark":{"type":"text","text":"<−18","dx":17},"encoding":{"x":{"datum":0.182,"axis":null},"y":{"datum":1.874,"axis":null}}},
{"data":{"values":[{}]},"mark":{"type":"text","text":"w","font":"DejaVu Serif","fontSize":17,"angle":270},"encoding":{"x":{"datum":0.033,"axis":null},"y":{"datum":0.5,"axis":null}}},
{"data":{"values":[{}]},"mark":{"type":"text","text":"p,SHAM","font":"Liberation Sans","fontWeight":"bold","fontSize":9.5,"angle":270,"dx":14.6,"dy":5},"encoding":{"x":{"datum":0.033,"axis":null},"y":{"datum":0.5,"axis":null}}},
{"data":{"values":[{}]},"mark":{"type":"text","text":"/","font":"DejaVu Serif","fontSize":17,"angle":270,"dx":51},"encoding":{"x":{"datum":0.033,"axis":null},"y":{"datum":0.5,"axis":null}}},
{"data":{"values":[{}]},"mark":{"type":"text","text":"w","font":"DejaVu Serif","fontSize":17,"angle":270,"dx":56.7},"encoding":{"x":{"datum":0.033,"axis":null},"y":{"datum":0.5,"axis":null}}},
{"data":{"values":[{}]},"mark":{"type":"text","text":"p,data","font":"Liberation Sans","fontWeight":"bold","fontSize":9.5,"angle":270,"dx":71.3,"dy":5},"encoding":{"x":{"datum":0.033,"axis":null},"y":{"datum":0.5,"axis":null}}}
]},
{"width":190,"height":95,"resolve":{"axis":{"x":"independent","y":"independent"}},"layer":[
{"data":{"values":[{}]},"mark":{"type":"rule","color":"black","strokeWidth":1},"encoding":{"y":{"datum":1,"axis":null}}},
{"data":{"name":"q"},"transform":[{"filter":"datum.s=='B'"}],"mark":{"type":"rule","clip":true,"color":"black"},"encoding":{"x":{"field":"r","type":"quantitative","axis":{"orient":"top","labels":false,"title":null,"tickSize":{"condition":{"test":"datum.value==0.1||datum.value==1||datum.value==10","value":-11},"value":-6}}},"y":{"field":"lo","type":"quantitative","axis":{"orient":"right","labels":false,"title":null,"tickCount":10,"tickSize":{"condition":{"test":"datum.value==1||datum.value==2","value":-11},"value":-6}}},"y2":{"field":"hi"}}},
{"data":{"name":"q"},"transform":[{"filter":"datum.s=='B'"},{"fold":["lo","hi"],"as":["c","e"]}],"mark":{"type":"tick","orient":"horizontal","size":8,"thickness":1,"clip":true,"color":"black"},"encoding":{"x":{"field":"r","type":"quantitative","axis":null},"y":{"field":"e","type":"quantitative","axis":null}}},
{"data":{"name":"q"},"transform":[{"filter":"datum.s=='B'"},{"fold":["va","vp","ma"],"as":["k","v"]}],"mark":{"type":"line","clip":true,"strokeWidth":1.4},"encoding":{"x":{"field":"r","type":"quantitative","scale":{"type":"log","domain":[0.1,30],"nice":false},"axis":{"orient":"bottom","labels":false,"title":null,"tickSize":{"condition":{"test":"datum.value==0.1||datum.value==1||datum.value==10","value":-11},"value":-6}}},"y":{"field":"v","type":"quantitative","scale":{"domain":[0.4,2.4],"nice":false,"zero":false},"axis":{"orient":"left","labels":false,"title":null,"tickCount":10,"tickSize":{"condition":{"test":"datum.value==1||datum.value==2","value":-11},"value":-6}}},"color":{"field":"k","type":"nominal","scale":{"domain":["va","vp","ma"],"range":["#ff0000","#0000ff","#00c000"]},"legend":null}}},
{"data":{"values":[{}]},"mark":{"type":"text","text":"M"},"encoding":{"x":{"datum":0.182,"axis":null},"y":{"datum":1.874,"axis":null}}},
{"data":{"values":[{}]},"mark":{"type":"text","text":"r","fontSize":10,"dx":13,"dy":4},"encoding":{"x":{"datum":0.182,"axis":null},"y":{"datum":1.874,"axis":null}}},
{"data":{"values":[{}]},"mark":{"type":"text","text":"<−18.5","dx":17},"encoding":{"x":{"datum":0.182,"axis":null},"y":{"datum":1.874,"axis":null}}}
]},
{"width":190,"height":95,"resolve":{"axis":{"x":"independent","y":"independent"}},"layer":[
{"data":{"values":[{}]},"mark":{"type":"rule","color":"black","strokeWidth":1},"encoding":{"y":{"datum":1,"axis":null}}},
{"data":{"name":"q"},"transform":[{"filter":"datum.s=='C'"}],"mark":{"type":"rule","clip":true,"color":"black"},"encoding":{"x":{"field":"r","type":"quantitative","axis":{"orient":"top","labels":false,"title":null,"tickSize":{"condition":{"test":"datum.value==0.1||datum.value==1||datum.value==10","value":-11},"value":-6}}},"y":{"field":"lo","type":"quantitative","axis":{"orient":"right","labels":false,"title":null,"tickCount":10,"tickSize":{"condition":{"test":"datum.value==1||datum.value==2","value":-11},"value":-6}}},"y2":{"field":"hi"}}},
{"data":{"name":"q"},"transform":[{"filter":"datum.s=='C'"},{"fold":["lo","hi"],"as":["c","e"]}],"mark":{"type":"tick","orient":"horizontal","size":8,"thickness":1,"clip":true,"color":"black"},"encoding":{"x":{"field":"r","type":"quantitative","axis":null},"y":{"field":"e","type":"quantitative","axis":null}}},
{"data":{"name":"q"},"transform":[{"filter":"datum.s=='C'"},{"fold":["va","vp","ma"],"as":["k","v"]}],"mark":{"type":"line","clip":true,"strokeWidth":1.4},"encoding":{"x":{"field":"r","type":"quantitative","scale":{"type":"log","domain":[0.1,30],"nice":false},"axis":{"orient":"bottom","labels":false,"title":null,"tickSize":{"condition":{"test":"datum.value==0.1||datum.value==1||datum.value==10","value":-11},"value":-6}}},"y":{"field":"v","type":"quantitative","scale":{"domain":[0.4,2.4],"nice":false,"zero":false},"axis":{"orient":"left","labels":false,"title":null,"tickCount":10,"tickSize":{"condition":{"test":"datum.value==1||datum.value==2","value":-11},"value":-6}}},"color":{"field":"k","type":"nominal","scale":{"domain":["va","vp","ma"],"range":["#ff0000","#0000ff","#00c000"]},"legend":null}}},
{"data":{"values":[{}]},"mark":{"type":"text","text":"M"},"encoding":{"x":{"datum":0.182,"axis":null},"y":{"datum":1.874,"axis":null}}},
{"data":{"values":[{}]},"mark":{"type":"text","text":"r","fontSize":10,"dx":13,"dy":4},"encoding":{"x":{"datum":0.182,"axis":null},"y":{"datum":1.874,"axis":null}}},
{"data":{"values":[{}]},"mark":{"type":"text","text":"<−19","dx":17},"encoding":{"x":{"datum":0.182,"axis":null},"y":{"datum":1.874,"axis":null}}}
]},
{"width":190,"height":95,"resolve":{"axis":{"x":"independent","y":"independent"}},"layer":[
{"data":{"values":[{}]},"mark":{"type":"rule","color":"black","strokeWidth":1},"encoding":{"y":{"datum":1,"axis":null}}},
{"data":{"name":"q"},"transform":[{"filter":"datum.s=='D'"}],"mark":{"type":"rule","clip":true,"color":"black"},"encoding":{"x":{"field":"r","type":"quantitative","axis":{"orient":"top","labels":false,"title":null,"tickSize":{"condition":{"test":"datum.value==0.1||datum.value==1||datum.value==10","value":-11},"value":-6}}},"y":{"field":"lo","type":"quantitative","axis":{"orient":"right","labels":false,"title":null,"tickCount":10,"tickSize":{"condition":{"test":"datum.value==1||datum.value==2","value":-11},"value":-6}}},"y2":{"field":"hi"}}},
{"data":{"name":"q"},"transform":[{"filter":"datum.s=='D'"},{"fold":["lo","hi"],"as":["c","e"]}],"mark":{"type":"tick","orient":"horizontal","size":8,"thickness":1,"clip":true,"color":"black"},"encoding":{"x":{"field":"r","type":"quantitative","axis":null},"y":{"field":"e","type":"quantitative","axis":null}}},
{"data":{"name":"q"},"transform":[{"filter":"datum.s=='D'"},{"fold":["va","vp","ma"],"as":["k","v"]}],"mark":{"type":"line","clip":true,"strokeWidth":1.4},"encoding":{"x":{"field":"r","type":"quantitative","scale":{"type":"log","domain":[0.1,30],"nice":false},"axis":{"orient":"bottom","labels":false,"title":null,"tickSize":{"condition":{"test":"datum.value==0.1||datum.value==1||datum.value==10","value":-11},"value":-6}}},"y":{"field":"v","type":"quantitative","scale":{"domain":[0.4,2.4],"nice":false,"zero":false},"axis":{"orient":"left","labels":false,"title":null,"tickCount":10,"tickSize":{"condition":{"test":"datum.value==1||datum.value==2","value":-11},"value":-6}}},"color":{"field":"k","type":"nominal","scale":{"domain":["va","vp","ma"],"range":["#ff0000","#0000ff","#00c000"]},"legend":null}}},
{"data":{"values":[{}]},"mark":{"type":"text","text":"M"},"encoding":{"x":{"datum":0.182,"axis":null},"y":{"datum":1.874,"axis":null}}},
{"data":{"values":[{}]},"mark":{"type":"text","text":"r","fontSize":10,"dx":13,"dy":4},"encoding":{"x":{"datum":0.182,"axis":null},"y":{"datum":1.874,"axis":null}}},
{"data":{"values":[{}]},"mark":{"type":"text","text":"<−19.5","dx":17},"encoding":{"x":{"datum":0.182,"axis":null},"y":{"datum":1.874,"axis":null}}}
]},
{"width":190,"height":190,"resolve":{"axis":{"x":"independent","y":"independent"}},"layer":[
{"data":{"name":"m"},"transform":[{"filter":"datum.s=='E'"},{"fold":["va","vp","ma"],"as":["k","v"]}],"mark":{"type":"line","clip":true,"strokeWidth":1.4},"encoding":{"x":{"field":"r","type":"quantitative","scale":{"type":"log","domain":[0.1,30],"nice":false},"axis":{"orient":"bottom","labels":false,"title":null,"tickSize":{"condition":{"test":"datum.value==0.1||datum.value==1||datum.value==10","value":-11},"value":-6}}},"y":{"field":"v","type":"quantitative","scale":{"type":"log","domain":[5,2000],"nice":false},"axis":{"orient":"left","title":null,"values":[6,7,8,9,10,20,30,40,50,60,70,80,90,100,200,300,400,500,600,700,800,900,1000],"labelPadding":23,"labelExpr":"datum.value==1000?'10³':datum.value==100?'10²':datum.value==10?'10':''","tickSize":{"condition":{"test":"datum.value==10||datum.value==100||datum.value==1000","value":-11},"value":-6}}},"color":{"field":"k","type":"nominal","scale":{"domain":["va","vp","ma"],"range":["#ff0000","#0000ff","#00c000"]},"legend":null}}},
{"data":{"name":"m"},"transform":[{"filter":"datum.s=='E'"}],"mark":{"type":"rule","clip":true,"color":"black"},"encoding":{"x":{"field":"r","type":"quantitative","axis":{"orient":"top","labels":false,"title":null,"tickSize":{"condition":{"test":"datum.value==0.1||datum.value==1||datum.value==10","value":-11},"value":-6}}},"y":{"field":"lo","type":"quantitative","axis":{"orient":"right","labels":false,"title":null,"tickSize":{"condition":{"test":"datum.value==10||datum.value==100||datum.value==1000","value":-11},"value":-6}}},"y2":{"field":"hi"}}},
{"data":{"name":"m"},"transform":[{"filter":"datum.s=='E'"},{"fold":["lo","hi"],"as":["c","e"]}],"mark":{"type":"tick","orient":"horizontal","size":8,"thickness":1,"clip":true,"color":"black"},"encoding":{"x":{"field":"r","type":"quantitative","axis":null},"y":{"field":"e","type":"quantitative","axis":null}}},
{"data":{"name":"m"},"transform":[{"filter":"datum.s=='E'"}],"mark":{"type":"point","shape":"circle","size":40,"color":"black","strokeWidth":1,"filled":false,"opacity":1,"clip":true},"encoding":{"x":{"field":"r","type":"quantitative","axis":null},"y":{"field":"w","type":"quantitative","axis":null}}},
{"data":{"values":[{}]},"mark":{"type":"rule","color":"#ff0000","strokeWidth":1.4},"encoding":{"x":{"datum":0.135,"axis":null},"x2":{"datum":0.313},"y":{"datum":30.2,"axis":null}}},
{"data":{"values":[{}]},"mark":{"type":"rule","color":"#0000ff","strokeWidth":1.4},"encoding":{"x":{"datum":0.135,"axis":null},"x2":{"datum":0.313},"y":{"datum":16.6,"axis":null}}},
{"data":{"values":[{}]},"mark":{"type":"rule","color":"#00c000","strokeWidth":1.4},"encoding":{"x":{"datum":0.135,"axis":null},"x2":{"datum":0.313},"y":{"datum":8.8,"axis":null}}},
{"data":{"values":[{}]},"mark":{"type":"text","text":"V","color":"#ff0000","dy":3},"encoding":{"x":{"datum":0.353,"axis":null},"y":{"datum":30.2,"axis":null}}},
{"data":{"values":[{}]},"mark":{"type":"text","text":"acc","color":"#ff0000","font":"Liberation Sans","fontWeight":"bold","fontSize":10,"dx":11.5,"dy":7},"encoding":{"x":{"datum":0.353,"axis":null},"y":{"datum":30.2,"axis":null}}},
{"data":{"values":[{}]},"mark":{"type":"text","text":"V","color":"#0000ff","dy":3},"encoding":{"x":{"datum":0.353,"axis":null},"y":{"datum":16.6,"axis":null}}},
{"data":{"values":[{}]},"mark":{"type":"text","text":"peak","color":"#0000ff","font":"Liberation Sans","fontWeight":"bold","fontSize":10,"dx":11.5,"dy":7},"encoding":{"x":{"datum":0.353,"axis":null},"y":{"datum":16.6,"axis":null}}},
{"data":{"values":[{}]},"mark":{"type":"text","text":"M","color":"#00c000","dy":3},"encoding":{"x":{"datum":0.353,"axis":null},"y":{"datum":8.8,"axis":null}}},
{"data":{"values":[{}]},"mark":{"type":"text","text":"acc","color":"#00c000","font":"Liberation Sans","fontWeight":"bold","fontSize":10,"dx":13.5,"dy":7},"encoding":{"x":{"datum":0.353,"axis":null},"y":{"datum":8.8,"axis":null}}},
{"data":{"values":[{}]},"mark":{"type":"text","text":"M"},"encoding":{"x":{"datum":1.81,"axis":null},"y":{"datum":776,"axis":null}}},
{"data":{"values":[{}]},"mark":{"type":"text","text":"r","fontSize":10,"dx":13,"dy":4},"encoding":{"x":{"datum":1.81,"axis":null},"y":{"datum":776,"axis":null}}},
{"data":{"values":[{}]},"mark":{"type":"text","text":"<−20","dx":17},"encoding":{"x":{"datum":1.81,"axis":null},"y":{"datum":776,"axis":null}}},
{"data":{"values":[{}]},"mark":{"type":"text","text":"w","font":"DejaVu Serif","fontSize":17,"angle":270},"encoding":{"x":{"datum":0.0204,"axis":null},"y":{"datum":10.6,"axis":null}}},
{"data":{"values":[{}]},"mark":{"type":"text","text":"p","font":"DejaVu Serif","fontSize":11,"angle":270,"dx":14.5,"dy":5},"encoding":{"x":{"datum":0.0204,"axis":null},"y":{"datum":10.6,"axis":null}}},
{"data":{"values":[{}]},"mark":{"type":"text","text":"(r","font":"DejaVu Serif","fontSize":17,"angle":270,"dx":21.2},"encoding":{"x":{"datum":0.0204,"axis":null},"y":{"datum":10.6,"axis":null}}},
{"data":{"values":[{}]},"mark":{"type":"text","text":"p","font":"DejaVu Serif","fontSize":11,"angle":270,"dx":35.9,"dy":5},"encoding":{"x":{"datum":0.0204,"axis":null},"y":{"datum":10.6,"axis":null}}},
{"data":{"values":[{}]},"mark":{"type":"text","text":")","font":"DejaVu Serif","fontSize":17,"angle":270,"dx":42.5},"encoding":{"x":{"datum":0.0204,"axis":null},"y":{"datum":10.6,"axis":null}}},
{"data":{"values":[{}]},"mark":{"type":"text","text":"(h","font":"DejaVu Serif","fontSize":17,"angle":270,"dx":59.9},"encoding":{"x":{"datum":0.0204,"axis":null},"y":{"datum":10.6,"axis":null}}},
{"data":{"values":[{}]},"mark":{"type":"text","text":"-1","font":"DejaVu Serif","fontSize":11,"angle":270,"dx":77.4,"dy":-7},"encoding":{"x":{"datum":0.0204,"axis":null},"y":{"datum":10.6,"axis":null}}},
{"data":{"values":[{}]},"mark":{"type":"text","text":"Mpc)","font":"DejaVu Serif","fontSize":17,"angle":270,"dx":87.8},"encoding":{"x":{"datum":0.0204,"axis":null},"y":{"datum":10.6,"axis":null}}}
]},
{"width":190,"height":190,"resolve":{"axis":{"x":"independent","y":"independent"}},"layer":[
{"data":{"name":"m"},"transform":[{"filter":"datum.s=='F'"},{"fold":["va","vp","ma"],"as":["k","v"]}],"mark":{"type":"line","clip":true,"strokeWidth":1.4},"encoding":{"x":{"field":"r","type":"quantitative","scale":{"type":"log","domain":[0.1,30],"nice":false},"axis":{"orient":"bottom","labels":false,"title":null,"tickSize":{"condition":{"test":"datum.value==0.1||datum.value==1||datum.value==10","value":-11},"value":-6}}},"y":{"field":"v","type":"quantitative","scale":{"type":"log","domain":[5,2000],"nice":false},"axis":{"orient":"left","labels":false,"title":null,"tickSize":{"condition":{"test":"datum.value==10||datum.value==100||datum.value==1000","value":-11},"value":-6}}},"color":{"field":"k","type":"nominal","scale":{"domain":["va","vp","ma"],"range":["#ff0000","#0000ff","#00c000"]},"legend":null}}},
{"data":{"name":"m"},"transform":[{"filter":"datum.s=='F'"}],"mark":{"type":"rule","clip":true,"color":"black"},"encoding":{"x":{"field":"r","type":"quantitative","axis":{"orient":"top","labels":false,"title":null,"tickSize":{"condition":{"test":"datum.value==0.1||datum.value==1||datum.value==10","value":-11},"value":-6}}},"y":{"field":"lo","type":"quantitative","axis":{"orient":"right","labels":false,"title":null,"tickSize":{"condition":{"test":"datum.value==10||datum.value==100||datum.value==1000","value":-11},"value":-6}}},"y2":{"field":"hi"}}},
{"data":{"name":"m"},"transform":[{"filter":"datum.s=='F'"},{"fold":["lo","hi"],"as":["c","e"]}],"mark":{"type":"tick","orient":"horizontal","size":8,"thickness":1,"clip":true,"color":"black"},"encoding":{"x":{"field":"r","type":"quantitative","axis":null},"y":{"field":"e","type":"quantitative","axis":null}}},
{"data":{"name":"m"},"transform":[{"filter":"datum.s=='F'"}],"mark":{"type":"point","shape":"circle","size":40,"color":"black","strokeWidth":1,"filled":false,"opacity":1,"clip":true},"encoding":{"x":{"field":"r","type":"quantitative","axis":null},"y":{"field":"w","type":"quantitative","axis":null}}},
{"data":{"values":[{}]},"mark":{"type":"rule","color":"#ff0000","strokeWidth":1.4},"encoding":{"x":{"datum":0.135,"axis":null},"x2":{"datum":0.313},"y":{"datum":30.2,"axis":null}}},
{"data":{"values":[{}]},"mark":{"type":"rule","color":"#0000ff","strokeWidth":1.4},"encoding":{"x":{"datum":0.135,"axis":null},"x2":{"datum":0.313},"y":{"datum":16.6,"axis":null}}},
{"data":{"values":[{}]},"mark":{"type":"rule","color":"#00c000","strokeWidth":1.4},"encoding":{"x":{"datum":0.135,"axis":null},"x2":{"datum":0.313},"y":{"datum":8.8,"axis":null}}},
{"data":{"values":[{}]},"mark":{"type":"text","text":"V","color":"#ff0000","dy":3},"encoding":{"x":{"datum":0.353,"axis":null},"y":{"datum":30.2,"axis":null}}},
{"data":{"values":[{}]},"mark":{"type":"text","text":"acc","color":"#ff0000","font":"Liberation Sans","fontWeight":"bold","fontSize":10,"dx":11.5,"dy":7},"encoding":{"x":{"datum":0.353,"axis":null},"y":{"datum":30.2,"axis":null}}},
{"data":{"values":[{}]},"mark":{"type":"text","text":"V","color":"#0000ff","dy":3},"encoding":{"x":{"datum":0.353,"axis":null},"y":{"datum":16.6,"axis":null}}},
{"data":{"values":[{}]},"mark":{"type":"text","text":"peak","color":"#0000ff","font":"Liberation Sans","fontWeight":"bold","fontSize":10,"dx":11.5,"dy":7},"encoding":{"x":{"datum":0.353,"axis":null},"y":{"datum":16.6,"axis":null}}},
{"data":{"values":[{}]},"mark":{"type":"text","text":"M","color":"#00c000","dy":3},"encoding":{"x":{"datum":0.353,"axis":null},"y":{"datum":8.8,"axis":null}}},
{"data":{"values":[{}]},"mark":{"type":"text","text":"acc","color":"#00c000","font":"Liberation Sans","fontWeight":"bold","fontSize":10,"dx":13.5,"dy":7},"encoding":{"x":{"datum":0.353,"axis":null},"y":{"datum":8.8,"axis":null}}},
{"data":{"values":[{}]},"mark":{"type":"text","text":"M"},"encoding":{"x":{"datum":1.81,"axis":null},"y":{"datum":776,"axis":null}}},
{"data":{"values":[{}]},"mark":{"type":"text","text":"r","fontSize":10,"dx":13,"dy":4},"encoding":{"x":{"datum":1.81,"axis":null},"y":{"datum":776,"axis":null}}},
{"data":{"values":[{}]},"mark":{"type":"text","text":"<−20.5","dx":17},"encoding":{"x":{"datum":1.81,"axis":null},"y":{"datum":776,"axis":null}}}
]},
{"width":190,"height":190,"resolve":{"axis":{"x":"independent","y":"independent"}},"layer":[
{"data":{"name":"m"},"transform":[{"filter":"datum.s=='G'"},{"fold":["va","vp","ma"],"as":["k","v"]}],"mark":{"type":"line","clip":true,"strokeWidth":1.4},"encoding":{"x":{"field":"r","type":"quantitative","scale":{"type":"log","domain":[0.1,30],"nice":false},"axis":{"orient":"bottom","labels":false,"title":null,"tickSize":{"condition":{"test":"datum.value==0.1||datum.value==1||datum.value==10","value":-11},"value":-6}}},"y":{"field":"v","type":"quantitative","scale":{"type":"log","domain":[5,2000],"nice":false},"axis":{"orient":"left","labels":false,"title":null,"tickSize":{"condition":{"test":"datum.value==10||datum.value==100||datum.value==1000","value":-11},"value":-6}}},"color":{"field":"k","type":"nominal","scale":{"domain":["va","vp","ma"],"range":["#ff0000","#0000ff","#00c000"]},"legend":null}}},
{"data":{"name":"m"},"transform":[{"filter":"datum.s=='G'"}],"mark":{"type":"rule","clip":true,"color":"black"},"encoding":{"x":{"field":"r","type":"quantitative","axis":{"orient":"top","labels":false,"title":null,"tickSize":{"condition":{"test":"datum.value==0.1||datum.value==1||datum.value==10","value":-11},"value":-6}}},"y":{"field":"lo","type":"quantitative","axis":{"orient":"right","labels":false,"title":null,"tickSize":{"condition":{"test":"datum.value==10||datum.value==100||datum.value==1000","value":-11},"value":-6}}},"y2":{"field":"hi"}}},
{"data":{"name":"m"},"transform":[{"filter":"datum.s=='G'"},{"fold":["lo","hi"],"as":["c","e"]}],"mark":{"type":"tick","orient":"horizontal","size":8,"thickness":1,"clip":true,"color":"black"},"encoding":{"x":{"field":"r","type":"quantitative","axis":null},"y":{"field":"e","type":"quantitative","axis":null}}},
{"data":{"name":"m"},"transform":[{"filter":"datum.s=='G'"}],"mark":{"type":"point","shape":"circle","size":40,"color":"black","strokeWidth":1,"filled":false,"opacity":1,"clip":true},"encoding":{"x":{"field":"r","type":"quantitative","axis":null},"y":{"field":"w","type":"quantitative","axis":null}}},
{"data":{"values":[{}]},"mark":{"type":"rule","color":"#ff0000","strokeWidth":1.4},"encoding":{"x":{"datum":0.135,"axis":null},"x2":{"datum":0.313},"y":{"datum":30.2,"axis":null}}},
{"data":{"values":[{}]},"mark":{"type":"rule","color":"#0000ff","strokeWidth":1.4},"encoding":{"x":{"datum":0.135,"axis":null},"x2":{"datum":0.313},"y":{"datum":16.6,"axis":null}}},
{"data":{"values":[{}]},"mark":{"type":"rule","color":"#00c000","strokeWidth":1.4},"encoding":{"x":{"datum":0.135,"axis":null},"x2":{"datum":0.313},"y":{"datum":8.8,"axis":null}}},
{"data":{"values":[{}]},"mark":{"type":"text","text":"V","color":"#ff0000","dy":3},"encoding":{"x":{"datum":0.353,"axis":null},"y":{"datum":30.2,"axis":null}}},
{"data":{"values":[{}]},"mark":{"type":"text","text":"acc","color":"#ff0000","font":"Liberation Sans","fontWeight":"bold","fontSize":10,"dx":11.5,"dy":7},"encoding":{"x":{"datum":0.353,"axis":null},"y":{"datum":30.2,"axis":null}}},
{"data":{"values":[{}]},"mark":{"type":"text","text":"V","color":"#0000ff","dy":3},"encoding":{"x":{"datum":0.353,"axis":null},"y":{"datum":16.6,"axis":null}}},
{"data":{"values":[{}]},"mark":{"type":"text","text":"peak","color":"#0000ff","font":"Liberation Sans","fontWeight":"bold","fontSize":10,"dx":11.5,"dy":7},"encoding":{"x":{"datum":0.353,"axis":null},"y":{"datum":16.6,"axis":null}}},
{"data":{"values":[{}]},"mark":{"type":"text","text":"M","color":"#00c000","dy":3},"encoding":{"x":{"datum":0.353,"axis":null},"y":{"datum":8.8,"axis":null}}},
{"data":{"values":[{}]},"mark":{"type":"text","text":"acc","color":"#00c000","font":"Liberation Sans","fontWeight":"bold","fontSize":10,"dx":13.5,"dy":7},"encoding":{"x":{"datum":0.353,"axis":null},"y":{"datum":8.8,"axis":null}}},
{"data":{"values":[{}]},"mark":{"type":"text","text":"M"},"encoding":{"x":{"datum":1.81,"axis":null},"y":{"datum":776,"axis":null}}},
{"data":{"values":[{}]},"mark":{"type":"text","text":"r","fontSize":10,"dx":13,"dy":4},"encoding":{"x":{"datum":1.81,"axis":null},"y":{"datum":776,"axis":null}}},
{"data":{"values":[{}]},"mark":{"type":"text","text":"<−21.0","dx":17},"encoding":{"x":{"datum":1.81,"axis":null},"y":{"datum":776,"axis":null}}}
]},
{"width":190,"height":190,"resolve":{"axis":{"x":"independent","y":"independent"}},"layer":[
{"data":{"name":"m"},"transform":[{"filter":"datum.s=='H'"},{"fold":["va","vp","ma"],"as":["k","v"]}],"mark":{"type":"line","clip":true,"strokeWidth":1.4},"encoding":{"x":{"field":"r","type":"quantitative","scale":{"type":"log","domain":[0.1,30],"nice":false},"axis":{"orient":"bottom","labels":false,"title":null,"tickSize":{"condition":{"test":"datum.value==0.1||datum.value==1||datum.value==10","value":-11},"value":-6}}},"y":{"field":"v","type":"quantitative","scale":{"type":"log","domain":[5,2000],"nice":false},"axis":{"orient":"left","labels":false,"title":null,"tickSize":{"condition":{"test":"datum.value==10||datum.value==100||datum.value==1000","value":-11},"value":-6}}},"color":{"field":"k","type":"nominal","scale":{"domain":["va","vp","ma"],"range":["#ff0000","#0000ff","#00c000"]},"legend":null}}},
{"data":{"name":"m"},"transform":[{"filter":"datum.s=='H'"}],"mark":{"type":"rule","clip":true,"color":"black"},"encoding":{"x":{"field":"r","type":"quantitative","axis":{"orient":"top","labels":false,"title":null,"tickSize":{"condition":{"test":"datum.value==0.1||datum.value==1||datum.value==10","value":-11},"value":-6}}},"y":{"field":"lo","type":"quantitative","axis":{"orient":"right","labels":false,"title":null,"tickSize":{"condition":{"test":"datum.value==10||datum.value==100||datum.value==1000","value":-11},"value":-6}}},"y2":{"field":"hi"}}},
{"data":{"name":"m"},"transform":[{"filter":"datum.s=='H'"},{"fold":["lo","hi"],"as":["c","e"]}],"mark":{"type":"tick","orient":"horizontal","size":8,"thickness":1,"clip":true,"color":"black"},"encoding":{"x":{"field":"r","type":"quantitative","axis":null},"y":{"field":"e","type":"quantitative","axis":null}}},
{"data":{"name":"m"},"transform":[{"filter":"datum.s=='H'"}],"mark":{"type":"point","shape":"circle","size":40,"color":"black","strokeWidth":1,"filled":false,"opacity":1,"clip":true},"encoding":{"x":{"field":"r","type":"quantitative","axis":null},"y":{"field":"w","type":"quantitative","axis":null}}},
{"data":{"values":[{}]},"mark":{"type":"rule","color":"#ff0000","strokeWidth":1.4},"encoding":{"x":{"datum":0.135,"axis":null},"x2":{"datum":0.313},"y":{"datum":30.2,"axis":null}}},
{"data":{"values":[{}]},"mark":{"type":"rule","color":"#0000ff","strokeWidth":1.4},"encoding":{"x":{"datum":0.135,"axis":null},"x2":{"datum":0.313},"y":{"datum":16.6,"axis":null}}},
{"data":{"values":[{}]},"mark":{"type":"rule","color":"#00c000","strokeWidth":1.4},"encoding":{"x":{"datum":0.135,"axis":null},"x2":{"datum":0.313},"y":{"datum":8.8,"axis":null}}},
{"data":{"values":[{}]},"mark":{"type":"text","text":"V","color":"#ff0000","dy":3},"encoding":{"x":{"datum":0.353,"axis":null},"y":{"datum":30.2,"axis":null}}},
{"data":{"values":[{}]},"mark":{"type":"text","text":"acc","color":"#ff0000","font":"Liberation Sans","fontWeight":"bold","fontSize":10,"dx":11.5,"dy":7},"encoding":{"x":{"datum":0.353,"axis":null},"y":{"datum":30.2,"axis":null}}},
{"data":{"values":[{}]},"mark":{"type":"text","text":"V","color":"#0000ff","dy":3},"encoding":{"x":{"datum":0.353,"axis":null},"y":{"datum":16.6,"axis":null}}},
{"data":{"values":[{}]},"mark":{"type":"text","text":"peak","color":"#0000ff","font":"Liberation Sans","fontWeight":"bold","fontSize":10,"dx":11.5,"dy":7},"encoding":{"x":{"datum":0.353,"axis":null},"y":{"datum":16.6,"axis":null}}},
{"data":{"values":[{}]},"mark":{"type":"text","text":"M","color":"#00c000","dy":3},"encoding":{"x":{"datum":0.353,"axis":null},"y":{"datum":8.8,"axis":null}}},
{"data":{"values":[{}]},"mark":{"type":"text","text":"acc","color":"#00c000","font":"Liberation Sans","fontWeight":"bold","fontSize":10,"dx":13.5,"dy":7},"encoding":{"x":{"datum":0.353,"axis":null},"y":{"datum":8.8,"axis":null}}},
{"data":{"values":[{}]},"mark":{"type":"text","text":"M"},"encoding":{"x":{"datum":1.81,"axis":null},"y":{"datum":776,"axis":null}}},
{"data":{"values":[{}]},"mark":{"type":"text","text":"r","fontSize":10,"dx":13,"dy":4},"encoding":{"x":{"datum":1.81,"axis":null},"y":{"datum":776,"axis":null}}},
{"data":{"values":[{}]},"mark":{"type":"text","text":"<−21.5","dx":17},"encoding":{"x":{"datum":1.81,"axis":null},"y":{"datum":776,"axis":null}}}
]},
{"width":190,"height":95,"resolve":{"axis":{"x":"independent","y":"independent"}},"layer":[
{"data":{"values":[{}]},"mark":{"type":"rule","color":"black","strokeWidth":1},"encoding":{"y":{"datum":1,"axis":null}}},
{"data":{"name":"q"},"transform":[{"filter":"datum.s=='E'"}],"mark":{"type":"rule","clip":true,"color":"black"},"encoding":{"x":{"field":"r","type":"quantitative","axis":{"orient":"top","labels":false,"title":null,"tickSize":{"condition":{"test":"datum.value==0.1||datum.value==1||datum.value==10","value":-11},"value":-6}}},"y":{"field":"lo","type":"quantitative","axis":{"orient":"right","labels":false,"title":null,"tickCount":10,"tickSize":{"condition":{"test":"datum.value==1||datum.value==2","value":-11},"value":-6}}},"y2":{"field":"hi"}}},
{"data":{"name":"q"},"transform":[{"filter":"datum.s=='E'"},{"fold":["lo","hi"],"as":["c","e"]}],"mark":{"type":"tick","orient":"horizontal","size":8,"thickness":1,"clip":true,"color":"black"},"encoding":{"x":{"field":"r","type":"quantitative","axis":null},"y":{"field":"e","type":"quantitative","axis":null}}},
{"data":{"name":"q"},"transform":[{"filter":"datum.s=='E'"},{"fold":["va","vp","ma"],"as":["k","v"]}],"mark":{"type":"line","clip":true,"strokeWidth":1.4},"encoding":{"x":{"field":"r","type":"quantitative","scale":{"type":"log","domain":[0.1,30],"nice":false},"axis":{"orient":"bottom","title":null,"values":[0.1,0.2,0.3,0.4,0.5,0.6,0.7,0.8,0.9,1,2,3,4,5,6,7,8,9,10,20],"labelPadding":19,"labelExpr":"datum.value==0.1?'0.1':datum.value==1?'1':datum.value==10?'10':''","tickSize":{"condition":{"test":"datum.value==0.1||datum.value==1||datum.value==10","value":-11},"value":-6}}},"y":{"field":"v","type":"quantitative","scale":{"domain":[0.4,2.4],"nice":false,"zero":false},"axis":{"orient":"left","title":null,"values":[0.6,0.8,1,1.2,1.4,1.6,1.8,2,2.2],"labelPadding":23,"labelExpr":"datum.value==1?'1':datum.value==2?'2':''","tickSize":{"condition":{"test":"datum.value==1||datum.value==2","value":-11},"value":-6}}},"color":{"field":"k","type":"nominal","scale":{"domain":["va","vp","ma"],"range":["#ff0000","#0000ff","#00c000"]},"legend":null}}},
{"data":{"values":[{}]},"mark":{"type":"text","text":"M"},"encoding":{"x":{"datum":0.182,"axis":null},"y":{"datum":1.874,"axis":null}}},
{"data":{"values":[{}]},"mark":{"type":"text","text":"r","fontSize":10,"dx":13,"dy":4},"encoding":{"x":{"datum":0.182,"axis":null},"y":{"datum":1.874,"axis":null}}},
{"data":{"values":[{}]},"mark":{"type":"text","text":"<−20","dx":17},"encoding":{"x":{"datum":0.182,"axis":null},"y":{"datum":1.874,"axis":null}}},
{"data":{"values":[{}]},"mark":{"type":"text","text":"w","font":"DejaVu Serif","fontSize":17,"angle":270},"encoding":{"x":{"datum":0.033,"axis":null},"y":{"datum":0.41,"axis":null}}},
{"data":{"values":[{}]},"mark":{"type":"text","text":"p,SHAM","font":"Liberation Sans","fontWeight":"bold","fontSize":9.5,"angle":270,"dx":14.6,"dy":5},"encoding":{"x":{"datum":0.033,"axis":null},"y":{"datum":0.41,"axis":null}}},
{"data":{"values":[{}]},"mark":{"type":"text","text":"/","font":"DejaVu Serif","fontSize":17,"angle":270,"dx":51},"encoding":{"x":{"datum":0.033,"axis":null},"y":{"datum":0.41,"axis":null}}},
{"data":{"values":[{}]},"mark":{"type":"text","text":"w","font":"DejaVu Serif","fontSize":17,"angle":270,"dx":56.7},"encoding":{"x":{"datum":0.033,"axis":null},"y":{"datum":0.41,"axis":null}}},
{"data":{"values":[{}]},"mark":{"type":"text","text":"p,data","font":"Liberation Sans","fontWeight":"bold","fontSize":9.5,"angle":270,"dx":71.3,"dy":5},"encoding":{"x":{"datum":0.033,"axis":null},"y":{"datum":0.41,"axis":null}}},
{"data":{"values":[{}]},"mark":{"type":"text","text":"r","font":"DejaVu Serif","fontSize":18},"encoding":{"x":{"datum":0.367,"axis":null},"y":{"datum":-0.547,"axis":null}}},
{"data":{"values":[{}]},"mark":{"type":"text","text":"p","font":"Liberation Sans","fontWeight":"bold","fontSize":10,"dx":8.6,"dy":5},"encoding":{"x":{"datum":0.367,"axis":null},"y":{"datum":-0.547,"axis":null}}},
{"data":{"values":[{}]},"mark":{"type":"text","text":"(h","font":"DejaVu Serif","fontSize":18,"dx":27},"encoding":{"x":{"datum":0.367,"axis":null},"y":{"datum":-0.547,"axis":null}}},
{"data":{"values":[{}]},"mark":{"type":"text","text":"-1","font":"DejaVu Serif","fontSize":11,"dx":45.6,"dy":-8},"encoding":{"x":{"datum":0.367,"axis":null},"y":{"datum":-0.547,"axis":null}}},
{"data":{"values":[{}]},"mark":{"type":"text","text":"Mpc)","font":"DejaVu Serif","fontSize":18,"dx":56.3},"encoding":{"x":{"datum":0.367,"axis":null},"y":{"datum":-0.547,"axis":null}}}
]},
{"width":190,"height":95,"resolve":{"axis":{"x":"independent","y":"independent"}},"layer":[
{"data":{"values":[{}]},"mark":{"type":"rule","color":"black","strokeWidth":1},"encoding":{"y":{"datum":1,"axis":null}}},
{"data":{"name":"q"},"transform":[{"filter":"datum.s=='F'"}],"mark":{"type":"rule","clip":true,"color":"black"},"encoding":{"x":{"field":"r","type":"quantitative","axis":{"orient":"top","labels":false,"title":null,"tickSize":{"condition":{"test":"datum.value==0.1||datum.value==1||datum.value==10","value":-11},"value":-6}}},"y":{"field":"lo","type":"quantitative","axis":{"orient":"right","labels":false,"title":null,"tickCount":10,"tickSize":{"condition":{"test":"datum.value==1||datum.value==2","value":-11},"value":-6}}},"y2":{"field":"hi"}}},
{"data":{"name":"q"},"transform":[{"filter":"datum.s=='F'"},{"fold":["lo","hi"],"as":["c","e"]}],"mark":{"type":"tick","orient":"horizontal","size":8,"thickness":1,"clip":true,"color":"black"},"encoding":{"x":{"field":"r","type":"quantitative","axis":null},"y":{"field":"e","type":"quantitative","axis":null}}},
{"data":{"name":"q"},"transform":[{"filter":"datum.s=='F'"},{"fold":["va","vp","ma"],"as":["k","v"]}],"mark":{"type":"line","clip":true,"strokeWidth":1.4},"encoding":{"x":{"field":"r","type":"quantitative","scale":{"type":"log","domain":[0.1,30],"nice":false},"axis":{"orient":"bottom","title":null,"values":[0.1,0.2,0.3,0.4,0.5,0.6,0.7,0.8,0.9,1,2,3,4,5,6,7,8,9,10,20],"labelPadding":19,"labelExpr":"datum.value==0.1?'0.1':datum.value==1?'1':datum.value==10?'10':''","tickSize":{"condition":{"test":"datum.value==0.1||datum.value==1||datum.value==10","value":-11},"value":-6}}},"y":{"field":"v","type":"quantitative","scale":{"domain":[0.4,2.4],"nice":false,"zero":false},"axis":{"orient":"left","labels":false,"title":null,"tickCount":10,"tickSize":{"condition":{"test":"datum.value==1||datum.value==2","value":-11},"value":-6}}},"color":{"field":"k","type":"nominal","scale":{"domain":["va","vp","ma"],"range":["#ff0000","#0000ff","#00c000"]},"legend":null}}},
{"data":{"values":[{}]},"mark":{"type":"text","text":"M"},"encoding":{"x":{"datum":0.182,"axis":null},"y":{"datum":1.874,"axis":null}}},
{"data":{"values":[{}]},"mark":{"type":"text","text":"r","fontSize":10,"dx":13,"dy":4},"encoding":{"x":{"datum":0.182,"axis":null},"y":{"datum":1.874,"axis":null}}},
{"data":{"values":[{}]},"mark":{"type":"text","text":"<−20.5","dx":17},"encoding":{"x":{"datum":0.182,"axis":null},"y":{"datum":1.874,"axis":null}}},
{"data":{"values":[{}]},"mark":{"type":"text","text":"r","font":"DejaVu Serif","fontSize":18},"encoding":{"x":{"datum":0.367,"axis":null},"y":{"datum":-0.547,"axis":null}}},
{"data":{"values":[{}]},"mark":{"type":"text","text":"p","font":"Liberation Sans","fontWeight":"bold","fontSize":10,"dx":8.6,"dy":5},"encoding":{"x":{"datum":0.367,"axis":null},"y":{"datum":-0.547,"axis":null}}},
{"data":{"values":[{}]},"mark":{"type":"text","text":"(h","font":"DejaVu Serif","fontSize":18,"dx":27},"encoding":{"x":{"datum":0.367,"axis":null},"y":{"datum":-0.547,"axis":null}}},
{"data":{"values":[{}]},"mark":{"type":"text","text":"-1","font":"DejaVu Serif","fontSize":11,"dx":45.6,"dy":-8},"encoding":{"x":{"datum":0.367,"axis":null},"y":{"datum":-0.547,"axis":null}}},
{"data":{"values":[{}]},"mark":{"type":"text","text":"Mpc)","font":"DejaVu Serif","fontSize":18,"dx":56.3},"encoding":{"x":{"datum":0.367,"axis":null},"y":{"datum":-0.547,"axis":null}}}
]},
{"width":190,"height":95,"resolve":{"axis":{"x":"independent","y":"independent"}},"layer":[
{"data":{"values":[{}]},"mark":{"type":"rule","color":"black","strokeWidth":1},"encoding":{"y":{"datum":1,"axis":null}}},
{"data":{"name":"q"},"transform":[{"filter":"datum.s=='G'"}],"mark":{"type":"rule","clip":true,"color":"black"},"encoding":{"x":{"field":"r","type":"quantitative","axis":{"orient":"top","labels":false,"title":null,"tickSize":{"condition":{"test":"datum.value==0.1||datum.value==1||datum.value==10","value":-11},"value":-6}}},"y":{"field":"lo","type":"quantitative","axis":{"orient":"right","labels":false,"title":null,"tickCount":10,"tickSize":{"condition":{"test":"datum.value==1||datum.value==2","value":-11},"value":-6}}},"y2":{"field":"hi"}}},
{"data":{"name":"q"},"transform":[{"filter":"datum.s=='G'"},{"fold":["lo","hi"],"as":["c","e"]}],"mark":{"type":"tick","orient":"horizontal","size":8,"thickness":1,"clip":true,"color":"black"},"encoding":{"x":{"field":"r","type":"quantitative","axis":null},"y":{"field":"e","type":"quantitative","axis":null}}},
{"data":{"name":"q"},"transform":[{"filter":"datum.s=='G'"},{"fold":["va","vp","ma"],"as":["k","v"]}],"mark":{"type":"line","clip":true,"strokeWidth":1.4},"encoding":{"x":{"field":"r","type":"quantitative","scale":{"type":"log","domain":[0.1,30],"nice":false},"axis":{"orient":"bottom","title":null,"values":[0.1,0.2,0.3,0.4,0.5,0.6,0.7,0.8,0.9,1,2,3,4,5,6,7,8,9,10,20],"labelPadding":19,"labelExpr":"datum.value==0.1?'0.1':datum.value==1?'1':datum.value==10?'10':''","tickSize":{"condition":{"test":"datum.value==0.1||datum.value==1||datum.value==10","value":-11},"value":-6}}},"y":{"field":"v","type":"quantitative","scale":{"domain":[0.4,2.4],"nice":false,"zero":false},"axis":{"orient":"left","labels":false,"title":null,"tickCount":10,"tickSize":{"condition":{"test":"datum.value==1||datum.value==2","value":-11},"value":-6}}},"color":{"field":"k","type":"nominal","scale":{"domain":["va","vp","ma"],"range":["#ff0000","#0000ff","#00c000"]},"legend":null}}},
{"data":{"values":[{}]},"mark":{"type":"text","text":"M"},"encoding":{"x":{"datum":0.182,"axis":null},"y":{"datum":1.874,"axis":null}}},
{"data":{"values":[{}]},"mark":{"type":"text","text":"r","fontSize":10,"dx":13,"dy":4},"encoding":{"x":{"datum":0.182,"axis":null},"y":{"datum":1.874,"axis":null}}},
{"data":{"values":[{}]},"mark":{"type":"text","text":"<−21","dx":17},"encoding":{"x":{"datum":0.182,"axis":null},"y":{"datum":1.874,"axis":null}}},
{"data":{"values":[{}]},"mark":{"type":"text","text":"r","font":"DejaVu Serif","fontSize":18},"encoding":{"x":{"datum":0.367,"axis":null},"y":{"datum":-0.547,"axis":null}}},
{"data":{"values":[{}]},"mark":{"type":"text","text":"p","font":"Liberation Sans","fontWeight":"bold","fontSize":10,"dx":8.6,"dy":5},"encoding":{"x":{"datum":0.367,"axis":null},"y":{"datum":-0.547,"axis":null}}},
{"data":{"values":[{}]},"mark":{"type":"text","text":"(h","font":"DejaVu Serif","fontSize":18,"dx":27},"encoding":{"x":{"datum":0.367,"axis":null},"y":{"datum":-0.547,"axis":null}}},
{"data":{"values":[{}]},"mark":{"type":"text","text":"-1","font":"DejaVu Serif","fontSize":11,"dx":45.6,"dy":-8},"encoding":{"x":{"datum":0.367,"axis":null},"y":{"datum":-0.547,"axis":null}}},
{"data":{"values":[{}]},"mark":{"type":"text","text":"Mpc)","font":"DejaVu Serif","fontSize":18,"dx":56.3},"encoding":{"x":{"datum":0.367,"axis":null},"y":{"datum":-0.547,"axis":null}}}
]},
{"width":190,"height":95,"resolve":{"axis":{"x":"independent","y":"independent"}},"layer":[
{"data":{"values":[{}]},"mark":{"type":"rule","color":"black","strokeWidth":1},"encoding":{"y":{"datum":1,"axis":null}}},
{"data":{"name":"q"},"transform":[{"filter":"datum.s=='H'"}],"mark":{"type":"rule","clip":true,"color":"black"},"encoding":{"x":{"field":"r","type":"quantitative","axis":{"orient":"top","labels":false,"title":null,"tickSize":{"condition":{"test":"datum.value==0.1||datum.value==1||datum.value==10","value":-11},"value":-6}}},"y":{"field":"lo","type":"quantitative","axis":{"orient":"right","labels":false,"title":null,"tickCount":10,"tickSize":{"condition":{"test":"datum.value==1||datum.value==2","value":-11},"value":-6}}},"y2":{"field":"hi"}}},
{"data":{"name":"q"},"transform":[{"filter":"datum.s=='H'"},{"fold":["lo","hi"],"as":["c","e"]}],"mark":{"type":"tick","orient":"horizontal","size":8,"thickness":1,"clip":true,"color":"black"},"encoding":{"x":{"field":"r","type":"quantitative","axis":null},"y":{"field":"e","type":"quantitative","axis":null}}},
{"data":{"name":"q"},"transform":[{"filter":"datum.s=='H'"},{"fold":["va","vp","ma"],"as":["k","v"]}],"mark":{"type":"line","clip":true,"strokeWidth":1.4},"encoding":{"x":{"field":"r","type":"quantitative","scale":{"type":"log","domain":[0.1,30],"nice":false},"axis":{"orient":"bottom","title":null,"values":[0.1,0.2,0.3,0.4,0.5,0.6,0.7,0.8,0.9,1,2,3,4,5,6,7,8,9,10,20],"labelPadding":19,"labelExpr":"datum.value==0.1?'0.1':datum.value==1?'1':datum.value==10?'10':''","tickSize":{"condition":{"test":"datum.value==0.1||datum.value==1||datum.value==10","value":-11},"value":-6}}},"y":{"field":"v","type":"quantitative","scale":{"domain":[0.4,2.4],"nice":false,"zero":false},"axis":{"orient":"left","labels":false,"title":null,"tickCount":10,"tickSize":{"condition":{"test":"datum.value==1||datum.value==2","value":-11},"value":-6}}},"color":{"field":"k","type":"nominal","scale":{"domain":["va","vp","ma"],"range":["#ff0000","#0000ff","#00c000"]},"legend":null}}},
{"data":{"values":[{}]},"mark":{"type":"text","text":"M"},"encoding":{"x":{"datum":0.182,"axis":null},"y":{"datum":1.874,"axis":null}}},
{"data":{"values":[{}]},"mark":{"type":"text","text":"r","fontSize":10,"dx":13,"dy":4},"encoding":{"x":{"datum":0.182,"axis":null},"y":{"datum":1.874,"axis":null}}},
{"data":{"values":[{}]},"mark":{"type":"text","text":"<−21.5","dx":17},"encoding":{"x":{"datum":0.182,"axis":null},"y":{"datum":1.874,"axis":null}}},
{"data":{"values":[{}]},"mark":{"type":"text","text":"r","font":"DejaVu Serif","fontSize":18},"encoding":{"x":{"datum":0.367,"axis":null},"y":{"datum":-0.547,"axis":null}}},
{"data":{"values":[{}]},"mark":{"type":"text","text":"p","font":"Liberation Sans","fontWeight":"bold","fontSize":10,"dx":8.6,"dy":5},"encoding":{"x":{"datum":0.367,"axis":null},"y":{"datum":-0.547,"axis":null}}},
{"data":{"values":[{}]},"mark":{"type":"text","text":"(h","font":"DejaVu Serif","fontSize":18,"dx":27},"encoding":{"x":{"datum":0.367,"axis":null},"y":{"datum":-0.547,"axis":null}}},
{"data":{"values":[{}]},"mark":{"type":"text","text":"-1","font":"DejaVu Serif","fontSize":11,"dx":45.6,"dy":-8},"encoding":{"x":{"datum":0.367,"axis":null},"y":{"datum":-0.547,"axis":null}}},
{"data":{"values":[{}]},"mark":{"type":"text","text":"Mpc)","font":"DejaVu Serif","fontSize":18,"dx":56.3},"encoding":{"x":{"datum":0.367,"axis":null},"y":{"datum":-0.547,"axis":null}}}
]}
]}
